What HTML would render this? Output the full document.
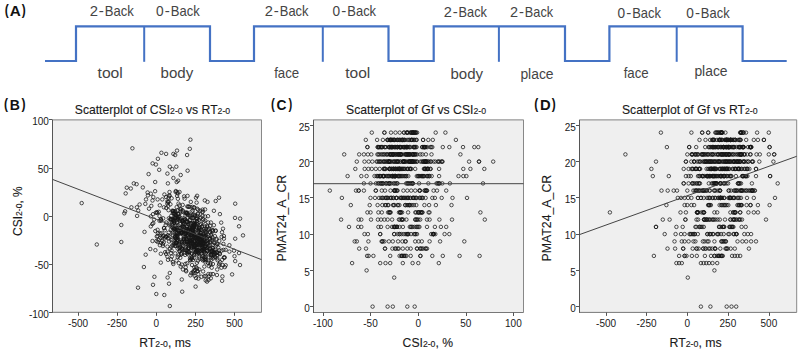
<!DOCTYPE html>
<html><head><meta charset="utf-8"><title>Figure</title><style>
html,body{margin:0;padding:0;background:#fff;width:799px;height:351px;overflow:hidden}
svg{display:block}
text{font-family:"Liberation Sans", sans-serif}
</style></head><body>
<svg width="799" height="351" viewBox="0 0 799 351">
<polyline points="45,61 76,61 76,26.3 210,26.3 210,61 254,61 254,26.3 388.5,26.3 388.5,61 433.7,61 433.7,26.3 565,26.3 565,61 609.4,61 609.4,26.3 742.6,26.3 742.6,61 786.7,61" fill="none" stroke="#4472c4" stroke-width="2.2" stroke-linejoin="miter"/>
<line x1="144.2" y1="26.3" x2="144.2" y2="61.8" stroke="#4472c4" stroke-width="2"/>
<line x1="322.8" y1="26.3" x2="322.8" y2="61.8" stroke="#4472c4" stroke-width="2"/>
<line x1="498.9" y1="26.3" x2="498.9" y2="61.8" stroke="#4472c4" stroke-width="2"/>
<line x1="676.7" y1="26.3" x2="676.7" y2="61.8" stroke="#4472c4" stroke-width="2"/>
<rect x="52.5" y="119.8" width="209" height="192.5" fill="#efefef"/>
<line x1="52.5" y1="119.8" x2="261.5" y2="119.8" stroke="#999" stroke-width="1.3"/>
<line x1="261.5" y1="119.8" x2="261.5" y2="312.3" stroke="#888" stroke-width="1"/>
<line x1="52.5" y1="312.3" x2="261.5" y2="312.3" stroke="#777" stroke-width="1"/>
<line x1="52.5" y1="119.8" x2="52.5" y2="312.8" stroke="#555" stroke-width="1"/>
<line x1="49" y1="119.5" x2="52.5" y2="119.5" stroke="#555" stroke-width="1"/>
<text x="48.9" y="125" font-size="10" text-anchor="end" fill="#1a1a1a">100</text>
<line x1="49" y1="168.5" x2="52.5" y2="168.5" stroke="#555" stroke-width="1"/>
<text x="48.9" y="173.2" font-size="10" text-anchor="end" fill="#1a1a1a">50</text>
<line x1="49" y1="216.5" x2="52.5" y2="216.5" stroke="#555" stroke-width="1"/>
<text x="48.9" y="221.2" font-size="10" text-anchor="end" fill="#1a1a1a">0</text>
<line x1="49" y1="264.5" x2="52.5" y2="264.5" stroke="#555" stroke-width="1"/>
<text x="48.9" y="269.4" font-size="10" text-anchor="end" fill="#1a1a1a">-50</text>
<line x1="49" y1="312.5" x2="52.5" y2="312.5" stroke="#555" stroke-width="1"/>
<text x="48.9" y="317.5" font-size="10" text-anchor="end" fill="#1a1a1a">-100</text>
<line x1="78.5" y1="312.3" x2="78.5" y2="315.8" stroke="#555" stroke-width="1"/>
<text x="78.1" y="326.6" font-size="10" text-anchor="middle" fill="#1a1a1a">-500</text>
<line x1="117.5" y1="312.3" x2="117.5" y2="315.8" stroke="#555" stroke-width="1"/>
<text x="117" y="326.6" font-size="10" text-anchor="middle" fill="#1a1a1a">-250</text>
<line x1="156.5" y1="312.3" x2="156.5" y2="315.8" stroke="#555" stroke-width="1"/>
<text x="156.4" y="326.6" font-size="10" text-anchor="middle" fill="#1a1a1a">0</text>
<line x1="195.5" y1="312.3" x2="195.5" y2="315.8" stroke="#555" stroke-width="1"/>
<text x="195.6" y="326.6" font-size="10" text-anchor="middle" fill="#1a1a1a">250</text>
<line x1="234.5" y1="312.3" x2="234.5" y2="315.8" stroke="#555" stroke-width="1"/>
<text x="234.5" y="326.6" font-size="10" text-anchor="middle" fill="#1a1a1a">500</text>
<g fill="none" stroke="#151515" stroke-width="0.75"><circle cx="132.4" cy="148.3" r="1.75"/><circle cx="190.4" cy="139.7" r="1.75"/><circle cx="189.8" cy="148.8" r="1.75"/><circle cx="161.4" cy="152.8" r="1.75"/><circle cx="166.1" cy="153.9" r="1.75"/><circle cx="173.4" cy="153.9" r="1.75"/><circle cx="175.2" cy="155.0" r="1.75"/><circle cx="177.0" cy="150.6" r="1.75"/><circle cx="187.1" cy="155.0" r="1.75"/><circle cx="157.9" cy="158.8" r="1.75"/><circle cx="152.6" cy="163.4" r="1.75"/><circle cx="155.9" cy="164.5" r="1.75"/><circle cx="159.2" cy="169.8" r="1.75"/><circle cx="169.8" cy="166.7" r="1.75"/><circle cx="172.3" cy="169.2" r="1.75"/><circle cx="176.3" cy="166.7" r="1.75"/><circle cx="187.6" cy="170.7" r="1.75"/><circle cx="148.6" cy="174.1" r="1.75"/><circle cx="167.4" cy="173.6" r="1.75"/><circle cx="180.7" cy="175.0" r="1.75"/><circle cx="173.4" cy="178.0" r="1.75"/><circle cx="155.2" cy="182.0" r="1.75"/><circle cx="167.9" cy="183.4" r="1.75"/><circle cx="176.7" cy="182.0" r="1.75"/><circle cx="178.1" cy="180.7" r="1.75"/><circle cx="133.8" cy="183.4" r="1.75"/><circle cx="136.6" cy="184.2" r="1.75"/><circle cx="81.7" cy="203.1" r="1.75"/><circle cx="96.8" cy="244.5" r="1.75"/><circle cx="121.3" cy="225.0" r="1.75"/><circle cx="121.3" cy="242.0" r="1.75"/><circle cx="145.7" cy="254.7" r="1.75"/><circle cx="143.9" cy="267.0" r="1.75"/><circle cx="160.8" cy="262.6" r="1.75"/><circle cx="154.4" cy="276.8" r="1.75"/><circle cx="153.0" cy="284.8" r="1.75"/><circle cx="138.0" cy="287.7" r="1.75"/><circle cx="156.3" cy="294.0" r="1.75"/><circle cx="164.3" cy="295.0" r="1.75"/><circle cx="169.8" cy="306.0" r="1.75"/><circle cx="169.0" cy="283.7" r="1.75"/><circle cx="167.6" cy="277.5" r="1.75"/><circle cx="169.8" cy="273.0" r="1.75"/><circle cx="181.8" cy="279.5" r="1.75"/><circle cx="182.2" cy="291.7" r="1.75"/><circle cx="150.3" cy="249.0" r="1.75"/><circle cx="155.4" cy="250.2" r="1.75"/><circle cx="160.8" cy="253.8" r="1.75"/><circle cx="170.9" cy="259.3" r="1.75"/><circle cx="173.0" cy="262.2" r="1.75"/><circle cx="180.7" cy="266.6" r="1.75"/><circle cx="183.0" cy="269.5" r="1.75"/><circle cx="186.2" cy="271.3" r="1.75"/><circle cx="190.4" cy="275.3" r="1.75"/><circle cx="195.6" cy="286.6" r="1.75"/><circle cx="205.7" cy="280.4" r="1.75"/><circle cx="196.0" cy="278.0" r="1.75"/><circle cx="198.4" cy="278.6" r="1.75"/><circle cx="201.5" cy="276.8" r="1.75"/><circle cx="208.4" cy="274.1" r="1.75"/><circle cx="213.0" cy="274.1" r="1.75"/><circle cx="222.1" cy="280.8" r="1.75"/><circle cx="222.4" cy="276.4" r="1.75"/><circle cx="232.1" cy="274.4" r="1.75"/><circle cx="240.0" cy="265.0" r="1.75"/><circle cx="235.2" cy="261.1" r="1.75"/><circle cx="234.5" cy="256.2" r="1.75"/><circle cx="239.0" cy="253.1" r="1.75"/><circle cx="234.0" cy="250.7" r="1.75"/><circle cx="229.4" cy="251.6" r="1.75"/><circle cx="225.7" cy="249.8" r="1.75"/><circle cx="225.7" cy="265.3" r="1.75"/><circle cx="224.8" cy="267.1" r="1.75"/><circle cx="222.1" cy="259.8" r="1.75"/><circle cx="223.9" cy="257.5" r="1.75"/><circle cx="211.7" cy="267.7" r="1.75"/><circle cx="193.8" cy="270.8" r="1.75"/><circle cx="197.5" cy="271.3" r="1.75"/><circle cx="235.2" cy="203.7" r="1.75"/><circle cx="219.0" cy="197.7" r="1.75"/><circle cx="215.7" cy="201.0" r="1.75"/><circle cx="204.8" cy="200.4" r="1.75"/><circle cx="207.5" cy="201.9" r="1.75"/><circle cx="235.0" cy="217.9" r="1.75"/><circle cx="240.1" cy="218.6" r="1.75"/><circle cx="239.0" cy="226.3" r="1.75"/><circle cx="243.0" cy="235.4" r="1.75"/><circle cx="235.2" cy="238.7" r="1.75"/><circle cx="219.9" cy="214.1" r="1.75"/><circle cx="213.9" cy="210.8" r="1.75"/><circle cx="229.4" cy="245.2" r="1.75"/><circle cx="223.9" cy="236.0" r="1.75"/><circle cx="223.9" cy="238.7" r="1.75"/><circle cx="222.0" cy="232.3" r="1.75"/><circle cx="221.2" cy="222.6" r="1.75"/><circle cx="223.0" cy="228.7" r="1.75"/><circle cx="197.1" cy="195.8" r="1.75"/><circle cx="196.0" cy="197.7" r="1.75"/><circle cx="126.8" cy="187.7" r="1.75"/><circle cx="130.8" cy="188.5" r="1.75"/><circle cx="142.8" cy="187.4" r="1.75"/><circle cx="125.7" cy="193.4" r="1.75"/><circle cx="147.6" cy="192.5" r="1.75"/><circle cx="150.8" cy="193.7" r="1.75"/><circle cx="147.9" cy="195.4" r="1.75"/><circle cx="155.1" cy="191.2" r="1.75"/><circle cx="153.3" cy="197.1" r="1.75"/><circle cx="146.0" cy="199.4" r="1.75"/><circle cx="145.3" cy="203.9" r="1.75"/><circle cx="139.6" cy="204.5" r="1.75"/><circle cx="131.4" cy="207.3" r="1.75"/><circle cx="136.9" cy="207.3" r="1.75"/><circle cx="138.2" cy="210.5" r="1.75"/><circle cx="125.1" cy="211.3" r="1.75"/><circle cx="124.3" cy="213.3" r="1.75"/><circle cx="149.0" cy="208.7" r="1.75"/><circle cx="137.1" cy="215.9" r="1.75"/><circle cx="152.5" cy="200.5" r="1.75"/><circle cx="157.6" cy="199.4" r="1.75"/><circle cx="153.0" cy="214.2" r="1.75"/><circle cx="150.8" cy="216.4" r="1.75"/><circle cx="144.5" cy="231.9" r="1.75"/><circle cx="150.8" cy="226.4" r="1.75"/><circle cx="152.5" cy="241.0" r="1.75"/><circle cx="156.4" cy="241.0" r="1.75"/><circle cx="155.3" cy="231.0" r="1.75"/><circle cx="157.6" cy="229.8" r="1.75"/><circle cx="157.6" cy="236.1" r="1.75"/><circle cx="160.4" cy="237.8" r="1.75"/><circle cx="165.0" cy="238.3" r="1.75"/><circle cx="163.8" cy="242.3" r="1.75"/><circle cx="159.9" cy="245.2" r="1.75"/><circle cx="191.9" cy="240.1" r="1.75"/><circle cx="192.3" cy="229.7" r="1.75"/><circle cx="183.8" cy="227.1" r="1.75"/><circle cx="208.3" cy="246.7" r="1.75"/><circle cx="207.4" cy="244.0" r="1.75"/><circle cx="199.7" cy="239.6" r="1.75"/><circle cx="175.0" cy="236.6" r="1.75"/><circle cx="201.1" cy="244.2" r="1.75"/><circle cx="184.3" cy="224.0" r="1.75"/><circle cx="198.7" cy="236.1" r="1.75"/><circle cx="201.3" cy="229.7" r="1.75"/><circle cx="198.7" cy="241.8" r="1.75"/><circle cx="187.1" cy="253.3" r="1.75"/><circle cx="201.7" cy="253.5" r="1.75"/><circle cx="187.6" cy="222.0" r="1.75"/><circle cx="190.9" cy="231.7" r="1.75"/><circle cx="202.6" cy="241.7" r="1.75"/><circle cx="189.6" cy="220.2" r="1.75"/><circle cx="188.8" cy="247.8" r="1.75"/><circle cx="185.3" cy="233.6" r="1.75"/><circle cx="200.1" cy="218.3" r="1.75"/><circle cx="195.6" cy="252.0" r="1.75"/><circle cx="170.8" cy="219.6" r="1.75"/><circle cx="193.7" cy="223.9" r="1.75"/><circle cx="201.0" cy="237.0" r="1.75"/><circle cx="177.4" cy="237.4" r="1.75"/><circle cx="203.0" cy="250.9" r="1.75"/><circle cx="212.3" cy="247.7" r="1.75"/><circle cx="196.4" cy="219.0" r="1.75"/><circle cx="202.4" cy="230.6" r="1.75"/><circle cx="189.6" cy="216.2" r="1.75"/><circle cx="183.4" cy="222.8" r="1.75"/><circle cx="177.5" cy="229.9" r="1.75"/><circle cx="212.3" cy="250.5" r="1.75"/><circle cx="199.3" cy="227.6" r="1.75"/><circle cx="181.6" cy="241.3" r="1.75"/><circle cx="208.2" cy="243.2" r="1.75"/><circle cx="197.9" cy="241.9" r="1.75"/><circle cx="214.1" cy="251.9" r="1.75"/><circle cx="201.2" cy="244.9" r="1.75"/><circle cx="176.2" cy="242.7" r="1.75"/><circle cx="206.5" cy="247.1" r="1.75"/><circle cx="171.3" cy="215.8" r="1.75"/><circle cx="205.1" cy="216.5" r="1.75"/><circle cx="192.8" cy="247.1" r="1.75"/><circle cx="179.3" cy="248.3" r="1.75"/><circle cx="201.6" cy="236.2" r="1.75"/><circle cx="198.9" cy="245.2" r="1.75"/><circle cx="196.4" cy="250.4" r="1.75"/><circle cx="187.1" cy="226.0" r="1.75"/><circle cx="207.5" cy="241.2" r="1.75"/><circle cx="184.4" cy="242.2" r="1.75"/><circle cx="212.6" cy="237.5" r="1.75"/><circle cx="178.4" cy="225.5" r="1.75"/><circle cx="193.2" cy="230.3" r="1.75"/><circle cx="211.9" cy="229.7" r="1.75"/><circle cx="210.1" cy="225.8" r="1.75"/><circle cx="185.6" cy="238.7" r="1.75"/><circle cx="208.5" cy="252.3" r="1.75"/><circle cx="199.1" cy="238.8" r="1.75"/><circle cx="196.8" cy="243.2" r="1.75"/><circle cx="192.9" cy="237.6" r="1.75"/><circle cx="201.9" cy="238.2" r="1.75"/><circle cx="204.2" cy="246.5" r="1.75"/><circle cx="219.1" cy="250.4" r="1.75"/><circle cx="189.9" cy="227.8" r="1.75"/><circle cx="194.8" cy="246.8" r="1.75"/><circle cx="191.0" cy="238.1" r="1.75"/><circle cx="181.5" cy="231.8" r="1.75"/><circle cx="199.8" cy="240.3" r="1.75"/><circle cx="189.8" cy="241.0" r="1.75"/><circle cx="198.4" cy="229.9" r="1.75"/><circle cx="188.3" cy="230.6" r="1.75"/><circle cx="192.3" cy="232.9" r="1.75"/><circle cx="207.1" cy="225.7" r="1.75"/><circle cx="194.2" cy="246.9" r="1.75"/><circle cx="205.3" cy="258.9" r="1.75"/><circle cx="174.6" cy="220.9" r="1.75"/><circle cx="190.9" cy="241.1" r="1.75"/><circle cx="208.1" cy="222.5" r="1.75"/><circle cx="203.2" cy="219.7" r="1.75"/><circle cx="197.1" cy="251.3" r="1.75"/><circle cx="193.2" cy="236.6" r="1.75"/><circle cx="204.6" cy="241.3" r="1.75"/><circle cx="193.9" cy="254.2" r="1.75"/><circle cx="207.6" cy="237.1" r="1.75"/><circle cx="206.0" cy="236.7" r="1.75"/><circle cx="196.6" cy="244.8" r="1.75"/><circle cx="197.7" cy="244.4" r="1.75"/><circle cx="176.7" cy="207.1" r="1.75"/><circle cx="202.4" cy="226.1" r="1.75"/><circle cx="182.7" cy="210.4" r="1.75"/><circle cx="210.2" cy="251.7" r="1.75"/><circle cx="212.7" cy="231.2" r="1.75"/><circle cx="195.0" cy="220.4" r="1.75"/><circle cx="204.2" cy="259.7" r="1.75"/><circle cx="184.3" cy="250.0" r="1.75"/><circle cx="206.9" cy="238.3" r="1.75"/><circle cx="193.8" cy="226.7" r="1.75"/><circle cx="199.8" cy="242.5" r="1.75"/><circle cx="213.0" cy="230.3" r="1.75"/><circle cx="208.6" cy="260.4" r="1.75"/><circle cx="212.4" cy="240.8" r="1.75"/><circle cx="186.1" cy="243.9" r="1.75"/><circle cx="196.4" cy="237.2" r="1.75"/><circle cx="212.1" cy="239.6" r="1.75"/><circle cx="172.8" cy="235.1" r="1.75"/><circle cx="198.8" cy="228.9" r="1.75"/><circle cx="194.9" cy="245.6" r="1.75"/><circle cx="195.9" cy="252.5" r="1.75"/><circle cx="194.3" cy="248.0" r="1.75"/><circle cx="212.9" cy="264.0" r="1.75"/><circle cx="186.9" cy="242.5" r="1.75"/><circle cx="172.5" cy="210.6" r="1.75"/><circle cx="180.2" cy="227.9" r="1.75"/><circle cx="192.7" cy="233.6" r="1.75"/><circle cx="187.9" cy="234.7" r="1.75"/><circle cx="216.5" cy="245.6" r="1.75"/><circle cx="201.4" cy="250.8" r="1.75"/><circle cx="192.6" cy="217.7" r="1.75"/><circle cx="188.3" cy="245.7" r="1.75"/><circle cx="175.2" cy="218.1" r="1.75"/><circle cx="207.1" cy="250.8" r="1.75"/><circle cx="195.1" cy="245.4" r="1.75"/><circle cx="197.0" cy="220.8" r="1.75"/><circle cx="176.2" cy="218.0" r="1.75"/><circle cx="206.1" cy="232.9" r="1.75"/><circle cx="184.2" cy="220.1" r="1.75"/><circle cx="176.6" cy="224.9" r="1.75"/><circle cx="180.8" cy="233.1" r="1.75"/><circle cx="187.3" cy="206.5" r="1.75"/><circle cx="203.7" cy="235.5" r="1.75"/><circle cx="198.5" cy="230.7" r="1.75"/><circle cx="204.4" cy="249.0" r="1.75"/><circle cx="203.0" cy="242.9" r="1.75"/><circle cx="211.0" cy="250.9" r="1.75"/><circle cx="200.4" cy="210.8" r="1.75"/><circle cx="205.8" cy="256.8" r="1.75"/><circle cx="191.4" cy="227.3" r="1.75"/><circle cx="183.9" cy="238.7" r="1.75"/><circle cx="217.6" cy="244.0" r="1.75"/><circle cx="201.7" cy="249.7" r="1.75"/><circle cx="184.1" cy="228.8" r="1.75"/><circle cx="198.5" cy="247.2" r="1.75"/><circle cx="194.6" cy="232.3" r="1.75"/><circle cx="182.8" cy="224.7" r="1.75"/><circle cx="205.7" cy="241.3" r="1.75"/><circle cx="184.8" cy="219.4" r="1.75"/><circle cx="202.5" cy="244.6" r="1.75"/><circle cx="215.2" cy="249.9" r="1.75"/><circle cx="194.2" cy="241.3" r="1.75"/><circle cx="198.9" cy="227.8" r="1.75"/><circle cx="178.2" cy="218.6" r="1.75"/><circle cx="198.5" cy="239.0" r="1.75"/><circle cx="190.2" cy="220.3" r="1.75"/><circle cx="180.7" cy="211.1" r="1.75"/><circle cx="215.4" cy="257.2" r="1.75"/><circle cx="216.9" cy="255.6" r="1.75"/><circle cx="184.5" cy="233.5" r="1.75"/><circle cx="194.3" cy="241.4" r="1.75"/><circle cx="186.3" cy="229.3" r="1.75"/><circle cx="200.5" cy="242.4" r="1.75"/><circle cx="202.7" cy="241.3" r="1.75"/><circle cx="191.1" cy="243.3" r="1.75"/><circle cx="195.6" cy="224.7" r="1.75"/><circle cx="187.5" cy="231.5" r="1.75"/><circle cx="193.7" cy="236.4" r="1.75"/><circle cx="195.0" cy="237.3" r="1.75"/><circle cx="193.4" cy="218.1" r="1.75"/><circle cx="200.1" cy="250.9" r="1.75"/><circle cx="200.2" cy="235.0" r="1.75"/><circle cx="200.4" cy="225.1" r="1.75"/><circle cx="172.2" cy="225.1" r="1.75"/><circle cx="183.8" cy="239.3" r="1.75"/><circle cx="182.5" cy="249.4" r="1.75"/><circle cx="190.4" cy="215.3" r="1.75"/><circle cx="185.8" cy="237.4" r="1.75"/><circle cx="201.0" cy="240.1" r="1.75"/><circle cx="212.8" cy="252.4" r="1.75"/><circle cx="194.7" cy="242.5" r="1.75"/><circle cx="214.9" cy="256.7" r="1.75"/><circle cx="207.3" cy="226.8" r="1.75"/><circle cx="193.2" cy="243.5" r="1.75"/><circle cx="191.4" cy="247.1" r="1.75"/><circle cx="202.2" cy="250.0" r="1.75"/><circle cx="209.9" cy="239.2" r="1.75"/><circle cx="190.9" cy="244.3" r="1.75"/><circle cx="206.8" cy="240.6" r="1.75"/><circle cx="181.0" cy="230.9" r="1.75"/><circle cx="199.3" cy="251.5" r="1.75"/><circle cx="204.4" cy="239.7" r="1.75"/><circle cx="205.2" cy="246.7" r="1.75"/><circle cx="197.5" cy="236.9" r="1.75"/><circle cx="192.1" cy="242.4" r="1.75"/><circle cx="182.3" cy="221.0" r="1.75"/><circle cx="195.1" cy="216.2" r="1.75"/><circle cx="189.8" cy="206.8" r="1.75"/><circle cx="186.8" cy="238.5" r="1.75"/><circle cx="201.8" cy="237.5" r="1.75"/><circle cx="192.2" cy="215.5" r="1.75"/><circle cx="216.9" cy="251.9" r="1.75"/><circle cx="208.1" cy="229.8" r="1.75"/><circle cx="192.8" cy="210.6" r="1.75"/><circle cx="204.4" cy="251.4" r="1.75"/><circle cx="172.2" cy="223.7" r="1.75"/><circle cx="202.6" cy="215.9" r="1.75"/><circle cx="173.1" cy="211.1" r="1.75"/><circle cx="187.4" cy="213.5" r="1.75"/><circle cx="195.4" cy="238.4" r="1.75"/><circle cx="202.6" cy="247.6" r="1.75"/><circle cx="213.0" cy="258.4" r="1.75"/><circle cx="179.3" cy="221.2" r="1.75"/><circle cx="182.3" cy="215.2" r="1.75"/><circle cx="194.0" cy="234.6" r="1.75"/><circle cx="200.9" cy="217.4" r="1.75"/><circle cx="180.1" cy="227.8" r="1.75"/><circle cx="192.6" cy="229.9" r="1.75"/><circle cx="194.2" cy="224.9" r="1.75"/><circle cx="203.4" cy="243.5" r="1.75"/><circle cx="193.9" cy="225.9" r="1.75"/><circle cx="183.2" cy="230.0" r="1.75"/><circle cx="177.0" cy="229.1" r="1.75"/><circle cx="196.8" cy="218.2" r="1.75"/><circle cx="192.0" cy="229.6" r="1.75"/><circle cx="200.5" cy="245.4" r="1.75"/><circle cx="194.6" cy="223.9" r="1.75"/><circle cx="193.3" cy="233.4" r="1.75"/><circle cx="203.8" cy="242.9" r="1.75"/><circle cx="186.3" cy="213.6" r="1.75"/><circle cx="190.5" cy="223.4" r="1.75"/><circle cx="181.7" cy="227.3" r="1.75"/><circle cx="189.1" cy="233.6" r="1.75"/><circle cx="201.3" cy="232.6" r="1.75"/><circle cx="208.2" cy="242.7" r="1.75"/><circle cx="186.0" cy="234.0" r="1.75"/><circle cx="198.9" cy="253.2" r="1.75"/><circle cx="204.2" cy="251.4" r="1.75"/><circle cx="201.1" cy="235.9" r="1.75"/><circle cx="201.1" cy="224.0" r="1.75"/><circle cx="209.2" cy="228.6" r="1.75"/><circle cx="183.8" cy="234.1" r="1.75"/><circle cx="210.1" cy="248.6" r="1.75"/><circle cx="172.7" cy="232.9" r="1.75"/><circle cx="199.1" cy="256.6" r="1.75"/><circle cx="173.3" cy="264.0" r="1.75"/><circle cx="219.7" cy="253.6" r="1.75"/><circle cx="193.1" cy="230.0" r="1.75"/><circle cx="214.9" cy="236.2" r="1.75"/><circle cx="200.8" cy="233.1" r="1.75"/><circle cx="174.8" cy="243.6" r="1.75"/><circle cx="213.3" cy="249.6" r="1.75"/><circle cx="175.1" cy="245.7" r="1.75"/><circle cx="187.1" cy="241.9" r="1.75"/><circle cx="216.9" cy="275.0" r="1.75"/><circle cx="188.1" cy="252.2" r="1.75"/><circle cx="175.7" cy="228.4" r="1.75"/><circle cx="213.9" cy="225.2" r="1.75"/><circle cx="210.3" cy="238.7" r="1.75"/><circle cx="186.8" cy="228.9" r="1.75"/><circle cx="185.7" cy="212.4" r="1.75"/><circle cx="188.5" cy="206.7" r="1.75"/><circle cx="186.6" cy="241.6" r="1.75"/><circle cx="196.9" cy="236.1" r="1.75"/><circle cx="170.8" cy="229.9" r="1.75"/><circle cx="178.8" cy="263.1" r="1.75"/><circle cx="202.6" cy="241.6" r="1.75"/><circle cx="179.0" cy="216.7" r="1.75"/><circle cx="170.2" cy="219.1" r="1.75"/><circle cx="193.6" cy="249.6" r="1.75"/><circle cx="174.6" cy="229.0" r="1.75"/><circle cx="178.1" cy="234.1" r="1.75"/><circle cx="190.9" cy="246.0" r="1.75"/><circle cx="183.5" cy="241.0" r="1.75"/><circle cx="189.0" cy="252.4" r="1.75"/><circle cx="188.0" cy="214.8" r="1.75"/><circle cx="168.2" cy="238.1" r="1.75"/><circle cx="175.7" cy="242.3" r="1.75"/><circle cx="202.2" cy="250.0" r="1.75"/><circle cx="197.7" cy="239.1" r="1.75"/><circle cx="161.2" cy="220.8" r="1.75"/><circle cx="196.6" cy="229.8" r="1.75"/><circle cx="186.1" cy="250.4" r="1.75"/><circle cx="171.3" cy="240.1" r="1.75"/><circle cx="223.4" cy="243.9" r="1.75"/><circle cx="190.8" cy="234.4" r="1.75"/><circle cx="217.3" cy="258.4" r="1.75"/><circle cx="205.1" cy="231.1" r="1.75"/><circle cx="187.7" cy="235.6" r="1.75"/><circle cx="205.1" cy="209.4" r="1.75"/><circle cx="202.1" cy="241.0" r="1.75"/><circle cx="196.5" cy="248.2" r="1.75"/><circle cx="159.5" cy="216.1" r="1.75"/><circle cx="216.4" cy="239.6" r="1.75"/><circle cx="168.6" cy="197.5" r="1.75"/><circle cx="164.8" cy="230.3" r="1.75"/><circle cx="220.2" cy="262.3" r="1.75"/><circle cx="178.1" cy="216.8" r="1.75"/><circle cx="198.0" cy="252.7" r="1.75"/><circle cx="168.7" cy="201.5" r="1.75"/><circle cx="193.5" cy="244.1" r="1.75"/><circle cx="163.2" cy="218.3" r="1.75"/><circle cx="177.7" cy="239.8" r="1.75"/><circle cx="185.8" cy="233.0" r="1.75"/><circle cx="181.3" cy="254.0" r="1.75"/><circle cx="214.4" cy="242.9" r="1.75"/><circle cx="204.1" cy="229.2" r="1.75"/><circle cx="189.4" cy="252.1" r="1.75"/><circle cx="216.8" cy="243.8" r="1.75"/><circle cx="186.6" cy="239.3" r="1.75"/><circle cx="159.5" cy="220.8" r="1.75"/><circle cx="175.2" cy="236.6" r="1.75"/><circle cx="188.7" cy="241.7" r="1.75"/><circle cx="177.6" cy="248.6" r="1.75"/><circle cx="182.8" cy="220.7" r="1.75"/><circle cx="197.1" cy="208.7" r="1.75"/><circle cx="175.1" cy="228.6" r="1.75"/><circle cx="204.1" cy="241.4" r="1.75"/><circle cx="193.9" cy="225.7" r="1.75"/><circle cx="193.7" cy="273.3" r="1.75"/><circle cx="175.8" cy="229.7" r="1.75"/><circle cx="191.3" cy="258.8" r="1.75"/><circle cx="199.5" cy="258.6" r="1.75"/><circle cx="191.9" cy="243.3" r="1.75"/><circle cx="205.7" cy="253.2" r="1.75"/><circle cx="203.4" cy="236.8" r="1.75"/><circle cx="187.9" cy="230.7" r="1.75"/><circle cx="178.5" cy="213.6" r="1.75"/><circle cx="176.0" cy="242.6" r="1.75"/><circle cx="188.7" cy="237.7" r="1.75"/><circle cx="184.7" cy="253.0" r="1.75"/><circle cx="197.4" cy="238.2" r="1.75"/><circle cx="200.6" cy="239.8" r="1.75"/><circle cx="166.1" cy="254.0" r="1.75"/><circle cx="196.8" cy="221.2" r="1.75"/><circle cx="208.5" cy="254.3" r="1.75"/><circle cx="194.3" cy="257.8" r="1.75"/><circle cx="191.8" cy="235.0" r="1.75"/><circle cx="158.6" cy="239.9" r="1.75"/><circle cx="188.6" cy="230.4" r="1.75"/><circle cx="194.7" cy="241.2" r="1.75"/><circle cx="200.8" cy="235.4" r="1.75"/><circle cx="180.0" cy="245.5" r="1.75"/><circle cx="213.4" cy="242.4" r="1.75"/><circle cx="185.7" cy="267.3" r="1.75"/><circle cx="181.8" cy="247.7" r="1.75"/><circle cx="219.9" cy="254.2" r="1.75"/><circle cx="211.3" cy="234.1" r="1.75"/><circle cx="191.9" cy="236.6" r="1.75"/><circle cx="190.2" cy="260.4" r="1.75"/><circle cx="177.1" cy="240.3" r="1.75"/><circle cx="168.0" cy="235.3" r="1.75"/><circle cx="198.9" cy="236.2" r="1.75"/><circle cx="198.1" cy="209.7" r="1.75"/><circle cx="202.4" cy="212.1" r="1.75"/><circle cx="174.8" cy="217.4" r="1.75"/><circle cx="180.4" cy="249.5" r="1.75"/><circle cx="189.6" cy="228.7" r="1.75"/><circle cx="198.3" cy="274.1" r="1.75"/><circle cx="188.1" cy="243.6" r="1.75"/><circle cx="211.6" cy="254.3" r="1.75"/><circle cx="187.3" cy="244.2" r="1.75"/><circle cx="206.3" cy="259.7" r="1.75"/><circle cx="182.8" cy="211.5" r="1.75"/><circle cx="190.0" cy="258.3" r="1.75"/><circle cx="167.3" cy="203.6" r="1.75"/><circle cx="187.5" cy="195.9" r="1.75"/><circle cx="183.1" cy="224.3" r="1.75"/><circle cx="196.6" cy="226.3" r="1.75"/><circle cx="171.2" cy="218.8" r="1.75"/><circle cx="187.1" cy="221.8" r="1.75"/><circle cx="188.2" cy="251.5" r="1.75"/><circle cx="173.1" cy="219.3" r="1.75"/><circle cx="174.2" cy="227.8" r="1.75"/><circle cx="197.9" cy="213.5" r="1.75"/><circle cx="196.8" cy="240.3" r="1.75"/><circle cx="153.3" cy="223.1" r="1.75"/><circle cx="203.3" cy="248.7" r="1.75"/><circle cx="197.0" cy="250.0" r="1.75"/><circle cx="212.8" cy="244.9" r="1.75"/><circle cx="204.6" cy="236.6" r="1.75"/><circle cx="201.8" cy="226.8" r="1.75"/><circle cx="185.9" cy="270.4" r="1.75"/><circle cx="196.5" cy="237.4" r="1.75"/><circle cx="166.2" cy="207.9" r="1.75"/><circle cx="191.7" cy="257.3" r="1.75"/><circle cx="196.1" cy="251.2" r="1.75"/><circle cx="187.2" cy="263.3" r="1.75"/><circle cx="180.6" cy="220.7" r="1.75"/><circle cx="204.9" cy="246.5" r="1.75"/><circle cx="182.7" cy="221.3" r="1.75"/><circle cx="183.1" cy="246.1" r="1.75"/><circle cx="194.7" cy="214.8" r="1.75"/><circle cx="196.1" cy="244.1" r="1.75"/><circle cx="169.0" cy="241.5" r="1.75"/><circle cx="182.7" cy="226.2" r="1.75"/><circle cx="203.1" cy="271.4" r="1.75"/><circle cx="174.9" cy="237.9" r="1.75"/><circle cx="178.6" cy="255.4" r="1.75"/><circle cx="175.7" cy="246.0" r="1.75"/><circle cx="179.7" cy="241.8" r="1.75"/><circle cx="186.2" cy="221.3" r="1.75"/><circle cx="156.8" cy="236.5" r="1.75"/><circle cx="177.0" cy="233.0" r="1.75"/><circle cx="212.0" cy="251.5" r="1.75"/><circle cx="210.5" cy="263.4" r="1.75"/><circle cx="172.5" cy="245.2" r="1.75"/><circle cx="197.4" cy="254.4" r="1.75"/><circle cx="205.1" cy="260.4" r="1.75"/><circle cx="191.2" cy="247.9" r="1.75"/><circle cx="181.7" cy="233.3" r="1.75"/><circle cx="204.8" cy="236.1" r="1.75"/><circle cx="209.8" cy="231.7" r="1.75"/><circle cx="193.1" cy="227.9" r="1.75"/><circle cx="191.0" cy="223.4" r="1.75"/><circle cx="157.7" cy="241.9" r="1.75"/><circle cx="193.8" cy="227.7" r="1.75"/><circle cx="191.8" cy="258.4" r="1.75"/><circle cx="169.4" cy="223.6" r="1.75"/><circle cx="198.2" cy="252.4" r="1.75"/><circle cx="211.6" cy="255.6" r="1.75"/><circle cx="188.2" cy="230.4" r="1.75"/><circle cx="193.0" cy="230.0" r="1.75"/><circle cx="168.5" cy="210.2" r="1.75"/><circle cx="176.7" cy="217.2" r="1.75"/><circle cx="166.0" cy="237.1" r="1.75"/><circle cx="163.1" cy="236.0" r="1.75"/><circle cx="168.7" cy="232.7" r="1.75"/><circle cx="214.1" cy="254.4" r="1.75"/><circle cx="174.1" cy="229.4" r="1.75"/><circle cx="190.8" cy="201.9" r="1.75"/><circle cx="176.5" cy="233.1" r="1.75"/><circle cx="179.1" cy="232.8" r="1.75"/><circle cx="201.9" cy="259.3" r="1.75"/><circle cx="205.2" cy="257.5" r="1.75"/><circle cx="182.5" cy="232.6" r="1.75"/><circle cx="182.8" cy="226.8" r="1.75"/><circle cx="184.6" cy="198.7" r="1.75"/><circle cx="181.7" cy="232.1" r="1.75"/><circle cx="169.5" cy="225.4" r="1.75"/><circle cx="197.8" cy="238.0" r="1.75"/><circle cx="184.1" cy="196.4" r="1.75"/><circle cx="197.9" cy="235.2" r="1.75"/><circle cx="204.2" cy="252.5" r="1.75"/><circle cx="188.4" cy="224.2" r="1.75"/><circle cx="200.1" cy="232.6" r="1.75"/><circle cx="192.2" cy="227.8" r="1.75"/><circle cx="191.8" cy="253.6" r="1.75"/><circle cx="171.4" cy="226.3" r="1.75"/><circle cx="199.7" cy="245.4" r="1.75"/><circle cx="204.3" cy="276.3" r="1.75"/><circle cx="205.5" cy="262.3" r="1.75"/><circle cx="176.2" cy="214.9" r="1.75"/><circle cx="204.9" cy="226.5" r="1.75"/><circle cx="175.0" cy="213.9" r="1.75"/><circle cx="192.4" cy="223.0" r="1.75"/><circle cx="212.9" cy="248.0" r="1.75"/><circle cx="167.4" cy="251.6" r="1.75"/><circle cx="176.9" cy="234.5" r="1.75"/><circle cx="187.8" cy="229.4" r="1.75"/><circle cx="194.2" cy="225.1" r="1.75"/><circle cx="163.9" cy="207.3" r="1.75"/><circle cx="187.6" cy="236.9" r="1.75"/><circle cx="198.6" cy="244.2" r="1.75"/><circle cx="172.9" cy="213.2" r="1.75"/><circle cx="197.2" cy="251.9" r="1.75"/><circle cx="185.7" cy="231.2" r="1.75"/><circle cx="205.8" cy="246.0" r="1.75"/><circle cx="202.0" cy="255.6" r="1.75"/><circle cx="192.0" cy="265.0" r="1.75"/><circle cx="177.1" cy="222.7" r="1.75"/><circle cx="172.6" cy="211.3" r="1.75"/><circle cx="188.4" cy="247.9" r="1.75"/><circle cx="210.3" cy="264.7" r="1.75"/><circle cx="210.9" cy="222.5" r="1.75"/><circle cx="175.9" cy="238.7" r="1.75"/><circle cx="215.3" cy="253.0" r="1.75"/><circle cx="171.7" cy="219.8" r="1.75"/><circle cx="175.4" cy="211.5" r="1.75"/><circle cx="216.5" cy="238.7" r="1.75"/><circle cx="210.5" cy="255.2" r="1.75"/><circle cx="176.4" cy="238.1" r="1.75"/><circle cx="218.8" cy="265.6" r="1.75"/><circle cx="212.0" cy="251.1" r="1.75"/><circle cx="197.8" cy="237.2" r="1.75"/><circle cx="196.1" cy="267.1" r="1.75"/><circle cx="160.8" cy="219.9" r="1.75"/><circle cx="192.6" cy="226.8" r="1.75"/><circle cx="182.1" cy="249.0" r="1.75"/><circle cx="194.2" cy="207.5" r="1.75"/><circle cx="224.6" cy="257.5" r="1.75"/><circle cx="187.4" cy="212.7" r="1.75"/><circle cx="186.9" cy="212.9" r="1.75"/><circle cx="189.3" cy="246.3" r="1.75"/><circle cx="188.6" cy="242.1" r="1.75"/><circle cx="171.8" cy="256.6" r="1.75"/><circle cx="175.6" cy="191.9" r="1.75"/><circle cx="184.4" cy="218.4" r="1.75"/><circle cx="168.8" cy="218.3" r="1.75"/><circle cx="193.5" cy="214.7" r="1.75"/><circle cx="185.4" cy="263.9" r="1.75"/><circle cx="201.0" cy="239.9" r="1.75"/><circle cx="190.4" cy="234.9" r="1.75"/><circle cx="187.1" cy="250.5" r="1.75"/><circle cx="187.6" cy="217.5" r="1.75"/><circle cx="200.4" cy="230.2" r="1.75"/><circle cx="168.1" cy="202.1" r="1.75"/><circle cx="152.3" cy="224.0" r="1.75"/><circle cx="175.9" cy="191.0" r="1.75"/><circle cx="159.8" cy="233.3" r="1.75"/><circle cx="173.3" cy="220.4" r="1.75"/><circle cx="194.3" cy="267.3" r="1.75"/><circle cx="190.7" cy="241.3" r="1.75"/><circle cx="182.1" cy="242.2" r="1.75"/><circle cx="193.5" cy="240.0" r="1.75"/><circle cx="178.5" cy="203.6" r="1.75"/><circle cx="177.9" cy="198.8" r="1.75"/><circle cx="211.3" cy="259.7" r="1.75"/><circle cx="165.1" cy="252.2" r="1.75"/><circle cx="198.1" cy="250.2" r="1.75"/><circle cx="191.8" cy="241.6" r="1.75"/><circle cx="208.0" cy="216.2" r="1.75"/><circle cx="164.4" cy="194.5" r="1.75"/><circle cx="177.4" cy="217.8" r="1.75"/><circle cx="195.0" cy="245.3" r="1.75"/><circle cx="188.6" cy="222.4" r="1.75"/><circle cx="179.6" cy="251.0" r="1.75"/><circle cx="202.5" cy="246.0" r="1.75"/><circle cx="181.9" cy="264.6" r="1.75"/><circle cx="176.7" cy="243.2" r="1.75"/><circle cx="209.9" cy="242.5" r="1.75"/><circle cx="203.7" cy="221.6" r="1.75"/><circle cx="207.2" cy="250.6" r="1.75"/><circle cx="157.9" cy="233.3" r="1.75"/><circle cx="171.0" cy="253.1" r="1.75"/><circle cx="175.1" cy="225.6" r="1.75"/><circle cx="193.4" cy="232.1" r="1.75"/><circle cx="192.9" cy="227.3" r="1.75"/><circle cx="200.8" cy="243.1" r="1.75"/><circle cx="210.1" cy="248.7" r="1.75"/><circle cx="154.1" cy="219.5" r="1.75"/><circle cx="196.9" cy="262.8" r="1.75"/><circle cx="167.4" cy="256.6" r="1.75"/><circle cx="185.2" cy="248.4" r="1.75"/><circle cx="181.0" cy="209.3" r="1.75"/><circle cx="208.8" cy="266.0" r="1.75"/><circle cx="217.2" cy="269.5" r="1.75"/><circle cx="177.1" cy="195.9" r="1.75"/><circle cx="175.6" cy="215.4" r="1.75"/><circle cx="172.5" cy="239.5" r="1.75"/><circle cx="194.2" cy="233.9" r="1.75"/><circle cx="191.3" cy="234.8" r="1.75"/><circle cx="192.0" cy="253.6" r="1.75"/><circle cx="206.2" cy="231.8" r="1.75"/><circle cx="190.2" cy="259.9" r="1.75"/><circle cx="156.8" cy="212.2" r="1.75"/><circle cx="188.5" cy="206.7" r="1.75"/><circle cx="178.2" cy="245.5" r="1.75"/><circle cx="208.5" cy="279.9" r="1.75"/><circle cx="171.6" cy="198.3" r="1.75"/><circle cx="197.9" cy="260.7" r="1.75"/><circle cx="191.7" cy="211.3" r="1.75"/><circle cx="202.9" cy="260.4" r="1.75"/><circle cx="198.5" cy="231.7" r="1.75"/><circle cx="193.8" cy="255.4" r="1.75"/><circle cx="177.4" cy="192.3" r="1.75"/><circle cx="194.2" cy="249.3" r="1.75"/><circle cx="188.3" cy="254.4" r="1.75"/><circle cx="176.9" cy="228.2" r="1.75"/><circle cx="182.2" cy="244.6" r="1.75"/><circle cx="218.3" cy="247.4" r="1.75"/><circle cx="203.0" cy="256.2" r="1.75"/><circle cx="221.6" cy="250.6" r="1.75"/><circle cx="185.9" cy="213.0" r="1.75"/><circle cx="197.0" cy="268.5" r="1.75"/><circle cx="198.1" cy="250.2" r="1.75"/><circle cx="184.2" cy="237.4" r="1.75"/><circle cx="160.9" cy="242.8" r="1.75"/><circle cx="180.2" cy="209.1" r="1.75"/><circle cx="173.7" cy="211.3" r="1.75"/><circle cx="204.3" cy="266.6" r="1.75"/><circle cx="162.2" cy="241.0" r="1.75"/><circle cx="204.9" cy="233.3" r="1.75"/><circle cx="159.8" cy="205.3" r="1.75"/><circle cx="176.0" cy="236.5" r="1.75"/><circle cx="192.4" cy="206.9" r="1.75"/><circle cx="205.2" cy="220.6" r="1.75"/><circle cx="174.8" cy="211.3" r="1.75"/><circle cx="177.7" cy="257.0" r="1.75"/><circle cx="204.2" cy="257.2" r="1.75"/><circle cx="194.1" cy="207.5" r="1.75"/><circle cx="178.1" cy="219.3" r="1.75"/><circle cx="169.4" cy="236.3" r="1.75"/><circle cx="173.9" cy="213.8" r="1.75"/><circle cx="199.3" cy="269.5" r="1.75"/><circle cx="191.3" cy="217.7" r="1.75"/><circle cx="211.1" cy="254.7" r="1.75"/><circle cx="205.6" cy="276.0" r="1.75"/><circle cx="209.4" cy="238.6" r="1.75"/><circle cx="208.0" cy="262.8" r="1.75"/><circle cx="158.8" cy="211.8" r="1.75"/><circle cx="160.9" cy="219.0" r="1.75"/><circle cx="199.0" cy="220.0" r="1.75"/><circle cx="195.2" cy="270.1" r="1.75"/><circle cx="162.9" cy="244.1" r="1.75"/><circle cx="184.0" cy="239.4" r="1.75"/><circle cx="185.1" cy="254.9" r="1.75"/><circle cx="207.7" cy="248.5" r="1.75"/><circle cx="162.2" cy="237.2" r="1.75"/><circle cx="179.1" cy="244.1" r="1.75"/><circle cx="193.0" cy="272.1" r="1.75"/><circle cx="209.6" cy="238.5" r="1.75"/><circle cx="194.6" cy="275.8" r="1.75"/><circle cx="177.8" cy="239.3" r="1.75"/><circle cx="210.6" cy="274.1" r="1.75"/><circle cx="197.9" cy="214.3" r="1.75"/><circle cx="164.0" cy="228.0" r="1.75"/><circle cx="171.6" cy="250.5" r="1.75"/><circle cx="202.6" cy="209.6" r="1.75"/><circle cx="172.5" cy="230.9" r="1.75"/><circle cx="178.6" cy="227.7" r="1.75"/><circle cx="196.9" cy="224.2" r="1.75"/><circle cx="196.9" cy="227.8" r="1.75"/><circle cx="177.7" cy="241.4" r="1.75"/><circle cx="177.1" cy="236.0" r="1.75"/><circle cx="218.4" cy="253.1" r="1.75"/><circle cx="185.2" cy="249.6" r="1.75"/><circle cx="181.1" cy="254.5" r="1.75"/><circle cx="163.6" cy="235.4" r="1.75"/><circle cx="178.3" cy="214.3" r="1.75"/><circle cx="221.6" cy="236.9" r="1.75"/><circle cx="221.4" cy="267.7" r="1.75"/><circle cx="215.6" cy="231.0" r="1.75"/><circle cx="210.8" cy="278.3" r="1.75"/><circle cx="185.8" cy="232.1" r="1.75"/><circle cx="180.0" cy="218.7" r="1.75"/><circle cx="196.5" cy="247.4" r="1.75"/><circle cx="191.4" cy="273.2" r="1.75"/><circle cx="181.8" cy="242.3" r="1.75"/><circle cx="215.7" cy="230.5" r="1.75"/><circle cx="162.3" cy="199.4" r="1.75"/><circle cx="196.6" cy="202.6" r="1.75"/><circle cx="197.5" cy="271.0" r="1.75"/><circle cx="157.3" cy="212.8" r="1.75"/><circle cx="174.0" cy="222.9" r="1.75"/><circle cx="189.0" cy="247.8" r="1.75"/><circle cx="181.4" cy="232.7" r="1.75"/><circle cx="177.6" cy="232.7" r="1.75"/><circle cx="165.7" cy="225.2" r="1.75"/><circle cx="151.3" cy="205.9" r="1.75"/><circle cx="224.4" cy="257.5" r="1.75"/><circle cx="164.1" cy="228.2" r="1.75"/><circle cx="169.5" cy="192.0" r="1.75"/><circle cx="174.0" cy="243.5" r="1.75"/><circle cx="195.3" cy="238.0" r="1.75"/><circle cx="170.4" cy="204.3" r="1.75"/><circle cx="213.6" cy="255.0" r="1.75"/><circle cx="166.2" cy="222.5" r="1.75"/><circle cx="192.0" cy="234.9" r="1.75"/><circle cx="182.7" cy="204.9" r="1.75"/><circle cx="168.0" cy="259.8" r="1.75"/><circle cx="173.6" cy="245.5" r="1.75"/><circle cx="155.8" cy="212.8" r="1.75"/><circle cx="193.0" cy="260.0" r="1.75"/><circle cx="166.7" cy="236.6" r="1.75"/><circle cx="195.3" cy="224.8" r="1.75"/><circle cx="197.1" cy="222.5" r="1.75"/><circle cx="172.9" cy="227.4" r="1.75"/><circle cx="169.0" cy="195.6" r="1.75"/><circle cx="179.9" cy="247.3" r="1.75"/><circle cx="180.3" cy="257.8" r="1.75"/><circle cx="166.0" cy="197.0" r="1.75"/><circle cx="217.5" cy="260.2" r="1.75"/><circle cx="206.0" cy="228.8" r="1.75"/><circle cx="203.3" cy="249.7" r="1.75"/><circle cx="200.3" cy="243.2" r="1.75"/><circle cx="210.9" cy="235.2" r="1.75"/><circle cx="169.7" cy="195.7" r="1.75"/><circle cx="210.1" cy="232.8" r="1.75"/><circle cx="168.2" cy="205.9" r="1.75"/><circle cx="179.5" cy="205.3" r="1.75"/><circle cx="182.5" cy="220.1" r="1.75"/><circle cx="177.5" cy="210.6" r="1.75"/><circle cx="188.7" cy="226.9" r="1.75"/><circle cx="190.2" cy="242.3" r="1.75"/><circle cx="177.8" cy="214.1" r="1.75"/><circle cx="202.7" cy="211.6" r="1.75"/><circle cx="174.4" cy="222.6" r="1.75"/><circle cx="181.6" cy="252.9" r="1.75"/><circle cx="179.6" cy="251.2" r="1.75"/><circle cx="211.2" cy="257.6" r="1.75"/><circle cx="197.3" cy="243.6" r="1.75"/><circle cx="197.2" cy="216.0" r="1.75"/><circle cx="206.0" cy="234.9" r="1.75"/><circle cx="206.7" cy="248.0" r="1.75"/><circle cx="209.4" cy="244.9" r="1.75"/><circle cx="180.5" cy="236.9" r="1.75"/><circle cx="179.9" cy="220.4" r="1.75"/><circle cx="189.9" cy="240.0" r="1.75"/><circle cx="216.8" cy="252.6" r="1.75"/><circle cx="190.5" cy="240.2" r="1.75"/><circle cx="185.3" cy="219.5" r="1.75"/><circle cx="186.7" cy="222.2" r="1.75"/><circle cx="219.2" cy="263.9" r="1.75"/><circle cx="179.5" cy="192.0" r="1.75"/><circle cx="187.0" cy="226.9" r="1.75"/><circle cx="167.4" cy="201.4" r="1.75"/><circle cx="187.4" cy="232.6" r="1.75"/><circle cx="215.4" cy="253.7" r="1.75"/><circle cx="191.2" cy="230.1" r="1.75"/><circle cx="176.5" cy="260.5" r="1.75"/><circle cx="207.0" cy="281.6" r="1.75"/><circle cx="181.4" cy="233.0" r="1.75"/><circle cx="171.3" cy="246.7" r="1.75"/><circle cx="161.5" cy="233.2" r="1.75"/><circle cx="208.8" cy="276.3" r="1.75"/><circle cx="170.1" cy="248.7" r="1.75"/><circle cx="174.4" cy="213.1" r="1.75"/><circle cx="162.9" cy="246.0" r="1.75"/><circle cx="219.3" cy="240.9" r="1.75"/><circle cx="173.6" cy="221.2" r="1.75"/><circle cx="177.7" cy="193.5" r="1.75"/><circle cx="175.2" cy="253.4" r="1.75"/><circle cx="223.5" cy="249.9" r="1.75"/><circle cx="174.9" cy="218.4" r="1.75"/><circle cx="167.4" cy="246.6" r="1.75"/><circle cx="193.5" cy="223.3" r="1.75"/><circle cx="202.8" cy="244.3" r="1.75"/><circle cx="165.7" cy="236.6" r="1.75"/><circle cx="222.7" cy="265.1" r="1.75"/><circle cx="174.3" cy="221.4" r="1.75"/></g>
<line x1="52.5" y1="179.4" x2="261.5" y2="259.6" stroke="#444" stroke-width="1"/>
<rect x="313.5" y="119.8" width="210" height="192.7" fill="#efefef"/>
<line x1="313.5" y1="119.8" x2="523.5" y2="119.8" stroke="#999" stroke-width="1.3"/>
<line x1="523.5" y1="119.8" x2="523.5" y2="312.5" stroke="#888" stroke-width="1"/>
<line x1="313.5" y1="312.5" x2="523.5" y2="312.5" stroke="#777" stroke-width="1"/>
<line x1="313.5" y1="119.8" x2="313.5" y2="313" stroke="#555" stroke-width="1"/>
<line x1="310" y1="125.5" x2="313.5" y2="125.5" stroke="#555" stroke-width="1"/>
<text x="309.9" y="130.55" font-size="10" text-anchor="end" fill="#1a1a1a">25</text>
<line x1="310" y1="161.5" x2="313.5" y2="161.5" stroke="#555" stroke-width="1"/>
<text x="309.9" y="166.8" font-size="10" text-anchor="end" fill="#1a1a1a">20</text>
<line x1="310" y1="197.5" x2="313.5" y2="197.5" stroke="#555" stroke-width="1"/>
<text x="309.9" y="203.05" font-size="10" text-anchor="end" fill="#1a1a1a">15</text>
<line x1="310" y1="234.5" x2="313.5" y2="234.5" stroke="#555" stroke-width="1"/>
<text x="309.9" y="239.3" font-size="10" text-anchor="end" fill="#1a1a1a">10</text>
<line x1="310" y1="270.5" x2="313.5" y2="270.5" stroke="#555" stroke-width="1"/>
<text x="309.9" y="275.55" font-size="10" text-anchor="end" fill="#1a1a1a">5</text>
<line x1="310" y1="306.5" x2="313.5" y2="306.5" stroke="#555" stroke-width="1"/>
<text x="309.9" y="311.8" font-size="10" text-anchor="end" fill="#1a1a1a">0</text>
<line x1="323.5" y1="312.5" x2="323.5" y2="316" stroke="#555" stroke-width="1"/>
<text x="322.9" y="326.6" font-size="10" text-anchor="middle" fill="#1a1a1a">-100</text>
<line x1="370.5" y1="312.5" x2="370.5" y2="316" stroke="#555" stroke-width="1"/>
<text x="370.5" y="326.6" font-size="10" text-anchor="middle" fill="#1a1a1a">-50</text>
<line x1="418.5" y1="312.5" x2="418.5" y2="316" stroke="#555" stroke-width="1"/>
<text x="418.2" y="326.6" font-size="10" text-anchor="middle" fill="#1a1a1a">0</text>
<line x1="466.5" y1="312.5" x2="466.5" y2="316" stroke="#555" stroke-width="1"/>
<text x="465.8" y="326.6" font-size="10" text-anchor="middle" fill="#1a1a1a">50</text>
<line x1="513.5" y1="312.5" x2="513.5" y2="316" stroke="#555" stroke-width="1"/>
<text x="513.4" y="326.6" font-size="10" text-anchor="middle" fill="#1a1a1a">100</text>
<g fill="none" stroke="#151515" stroke-width="0.75"><circle cx="371.8" cy="132.6" r="1.75"/><circle cx="384.4" cy="132.6" r="1.75"/><circle cx="384.4" cy="132.6" r="1.75"/><circle cx="391.0" cy="132.6" r="1.75"/><circle cx="395.5" cy="132.6" r="1.75"/><circle cx="399.7" cy="132.6" r="1.75"/><circle cx="416.1" cy="132.6" r="1.75"/><circle cx="407.0" cy="132.6" r="1.75"/><circle cx="411.9" cy="132.6" r="1.75"/><circle cx="413.3" cy="132.6" r="1.75"/><circle cx="413.1" cy="132.6" r="1.75"/><circle cx="407.7" cy="132.6" r="1.75"/><circle cx="414.0" cy="132.6" r="1.75"/><circle cx="417.1" cy="132.6" r="1.75"/><circle cx="410.3" cy="132.6" r="1.75"/><circle cx="415.4" cy="132.6" r="1.75"/><circle cx="413.4" cy="132.6" r="1.75"/><circle cx="406.6" cy="132.6" r="1.75"/><circle cx="415.3" cy="132.6" r="1.75"/><circle cx="413.0" cy="132.6" r="1.75"/><circle cx="412.2" cy="132.6" r="1.75"/><circle cx="404.1" cy="132.6" r="1.75"/><circle cx="407.5" cy="132.6" r="1.75"/><circle cx="411.4" cy="132.6" r="1.75"/><circle cx="410.7" cy="132.6" r="1.75"/><circle cx="403.9" cy="132.6" r="1.75"/><circle cx="414.9" cy="132.6" r="1.75"/><circle cx="435.7" cy="132.6" r="1.75"/><circle cx="445.4" cy="132.6" r="1.75"/><circle cx="365.8" cy="139.9" r="1.75"/><circle cx="377.1" cy="139.9" r="1.75"/><circle cx="382.9" cy="139.9" r="1.75"/><circle cx="402.7" cy="139.9" r="1.75"/><circle cx="416.1" cy="139.9" r="1.75"/><circle cx="414.4" cy="139.9" r="1.75"/><circle cx="387.5" cy="139.9" r="1.75"/><circle cx="392.0" cy="139.9" r="1.75"/><circle cx="387.9" cy="139.9" r="1.75"/><circle cx="407.2" cy="139.9" r="1.75"/><circle cx="401.6" cy="139.9" r="1.75"/><circle cx="394.4" cy="139.9" r="1.75"/><circle cx="399.2" cy="139.9" r="1.75"/><circle cx="411.9" cy="139.9" r="1.75"/><circle cx="400.4" cy="139.9" r="1.75"/><circle cx="416.7" cy="139.9" r="1.75"/><circle cx="390.4" cy="139.9" r="1.75"/><circle cx="397.4" cy="139.9" r="1.75"/><circle cx="413.7" cy="139.9" r="1.75"/><circle cx="411.1" cy="139.9" r="1.75"/><circle cx="412.0" cy="139.9" r="1.75"/><circle cx="390.8" cy="139.9" r="1.75"/><circle cx="411.8" cy="139.9" r="1.75"/><circle cx="404.9" cy="139.9" r="1.75"/><circle cx="393.0" cy="139.9" r="1.75"/><circle cx="390.2" cy="139.9" r="1.75"/><circle cx="391.6" cy="139.9" r="1.75"/><circle cx="390.8" cy="139.9" r="1.75"/><circle cx="397.8" cy="139.9" r="1.75"/><circle cx="387.4" cy="139.9" r="1.75"/><circle cx="404.5" cy="139.9" r="1.75"/><circle cx="402.5" cy="139.9" r="1.75"/><circle cx="389.3" cy="139.9" r="1.75"/><circle cx="409.5" cy="139.9" r="1.75"/><circle cx="397.0" cy="139.9" r="1.75"/><circle cx="403.7" cy="139.9" r="1.75"/><circle cx="393.3" cy="139.9" r="1.75"/><circle cx="408.8" cy="139.9" r="1.75"/><circle cx="402.3" cy="139.9" r="1.75"/><circle cx="399.3" cy="139.9" r="1.75"/><circle cx="394.8" cy="139.9" r="1.75"/><circle cx="394.2" cy="139.9" r="1.75"/><circle cx="423.1" cy="139.9" r="1.75"/><circle cx="423.1" cy="139.9" r="1.75"/><circle cx="428.3" cy="139.9" r="1.75"/><circle cx="432.8" cy="139.9" r="1.75"/><circle cx="455.9" cy="139.9" r="1.75"/><circle cx="367.4" cy="147.1" r="1.75"/><circle cx="367.4" cy="147.1" r="1.75"/><circle cx="392.9" cy="147.1" r="1.75"/><circle cx="406.5" cy="147.1" r="1.75"/><circle cx="427.3" cy="147.1" r="1.75"/><circle cx="394.5" cy="147.1" r="1.75"/><circle cx="389.3" cy="147.1" r="1.75"/><circle cx="395.7" cy="147.1" r="1.75"/><circle cx="431.3" cy="147.1" r="1.75"/><circle cx="391.2" cy="147.1" r="1.75"/><circle cx="397.3" cy="147.1" r="1.75"/><circle cx="432.3" cy="147.1" r="1.75"/><circle cx="422.1" cy="147.1" r="1.75"/><circle cx="382.3" cy="147.1" r="1.75"/><circle cx="423.6" cy="147.1" r="1.75"/><circle cx="392.4" cy="147.1" r="1.75"/><circle cx="397.5" cy="147.1" r="1.75"/><circle cx="384.7" cy="147.1" r="1.75"/><circle cx="401.0" cy="147.1" r="1.75"/><circle cx="379.1" cy="147.1" r="1.75"/><circle cx="396.9" cy="147.1" r="1.75"/><circle cx="410.5" cy="147.1" r="1.75"/><circle cx="415.5" cy="147.1" r="1.75"/><circle cx="377.8" cy="147.1" r="1.75"/><circle cx="407.6" cy="147.1" r="1.75"/><circle cx="422.3" cy="147.1" r="1.75"/><circle cx="424.1" cy="147.1" r="1.75"/><circle cx="389.1" cy="147.1" r="1.75"/><circle cx="414.1" cy="147.1" r="1.75"/><circle cx="385.0" cy="147.1" r="1.75"/><circle cx="389.7" cy="147.1" r="1.75"/><circle cx="409.4" cy="147.1" r="1.75"/><circle cx="404.9" cy="147.1" r="1.75"/><circle cx="404.7" cy="147.1" r="1.75"/><circle cx="416.6" cy="147.1" r="1.75"/><circle cx="409.3" cy="147.1" r="1.75"/><circle cx="407.7" cy="147.1" r="1.75"/><circle cx="426.0" cy="147.1" r="1.75"/><circle cx="404.0" cy="147.1" r="1.75"/><circle cx="390.6" cy="147.1" r="1.75"/><circle cx="386.0" cy="147.1" r="1.75"/><circle cx="388.9" cy="147.1" r="1.75"/><circle cx="377.7" cy="147.1" r="1.75"/><circle cx="380.3" cy="147.1" r="1.75"/><circle cx="406.7" cy="147.1" r="1.75"/><circle cx="402.9" cy="147.1" r="1.75"/><circle cx="378.9" cy="147.1" r="1.75"/><circle cx="403.8" cy="147.1" r="1.75"/><circle cx="381.2" cy="147.1" r="1.75"/><circle cx="382.1" cy="147.1" r="1.75"/><circle cx="404.0" cy="147.1" r="1.75"/><circle cx="401.1" cy="147.1" r="1.75"/><circle cx="413.5" cy="147.1" r="1.75"/><circle cx="424.0" cy="147.1" r="1.75"/><circle cx="413.8" cy="147.1" r="1.75"/><circle cx="391.2" cy="147.1" r="1.75"/><circle cx="399.9" cy="147.1" r="1.75"/><circle cx="425.1" cy="147.1" r="1.75"/><circle cx="400.8" cy="147.1" r="1.75"/><circle cx="430.4" cy="147.1" r="1.75"/><circle cx="399.1" cy="147.1" r="1.75"/><circle cx="400.6" cy="147.1" r="1.75"/><circle cx="399.8" cy="147.1" r="1.75"/><circle cx="378.7" cy="147.1" r="1.75"/><circle cx="425.0" cy="147.1" r="1.75"/><circle cx="424.4" cy="147.1" r="1.75"/><circle cx="394.1" cy="147.1" r="1.75"/><circle cx="414.4" cy="147.1" r="1.75"/><circle cx="406.3" cy="147.1" r="1.75"/><circle cx="399.9" cy="147.1" r="1.75"/><circle cx="415.2" cy="147.1" r="1.75"/><circle cx="392.1" cy="147.1" r="1.75"/><circle cx="395.2" cy="147.1" r="1.75"/><circle cx="397.3" cy="147.1" r="1.75"/><circle cx="405.8" cy="147.1" r="1.75"/><circle cx="381.3" cy="147.1" r="1.75"/><circle cx="391.4" cy="147.1" r="1.75"/><circle cx="442.8" cy="147.1" r="1.75"/><circle cx="449.3" cy="147.1" r="1.75"/><circle cx="463.0" cy="147.1" r="1.75"/><circle cx="474.3" cy="147.1" r="1.75"/><circle cx="478.3" cy="147.1" r="1.75"/><circle cx="344.2" cy="154.4" r="1.75"/><circle cx="359.2" cy="154.4" r="1.75"/><circle cx="363.9" cy="154.4" r="1.75"/><circle cx="367.9" cy="154.4" r="1.75"/><circle cx="371.3" cy="154.4" r="1.75"/><circle cx="390.0" cy="154.4" r="1.75"/><circle cx="379.5" cy="154.4" r="1.75"/><circle cx="412.7" cy="154.4" r="1.75"/><circle cx="397.1" cy="154.4" r="1.75"/><circle cx="401.2" cy="154.4" r="1.75"/><circle cx="395.3" cy="154.4" r="1.75"/><circle cx="386.5" cy="154.4" r="1.75"/><circle cx="400.2" cy="154.4" r="1.75"/><circle cx="393.3" cy="154.4" r="1.75"/><circle cx="395.7" cy="154.4" r="1.75"/><circle cx="389.8" cy="154.4" r="1.75"/><circle cx="402.8" cy="154.4" r="1.75"/><circle cx="378.4" cy="154.4" r="1.75"/><circle cx="388.0" cy="154.4" r="1.75"/><circle cx="397.9" cy="154.4" r="1.75"/><circle cx="383.7" cy="154.4" r="1.75"/><circle cx="398.2" cy="154.4" r="1.75"/><circle cx="393.3" cy="154.4" r="1.75"/><circle cx="413.1" cy="154.4" r="1.75"/><circle cx="407.7" cy="154.4" r="1.75"/><circle cx="407.1" cy="154.4" r="1.75"/><circle cx="417.2" cy="154.4" r="1.75"/><circle cx="420.3" cy="154.4" r="1.75"/><circle cx="414.8" cy="154.4" r="1.75"/><circle cx="413.0" cy="154.4" r="1.75"/><circle cx="406.2" cy="154.4" r="1.75"/><circle cx="400.6" cy="154.4" r="1.75"/><circle cx="398.8" cy="154.4" r="1.75"/><circle cx="392.8" cy="154.4" r="1.75"/><circle cx="393.4" cy="154.4" r="1.75"/><circle cx="410.1" cy="154.4" r="1.75"/><circle cx="384.6" cy="154.4" r="1.75"/><circle cx="382.5" cy="154.4" r="1.75"/><circle cx="392.4" cy="154.4" r="1.75"/><circle cx="405.3" cy="154.4" r="1.75"/><circle cx="405.2" cy="154.4" r="1.75"/><circle cx="422.4" cy="154.4" r="1.75"/><circle cx="377.4" cy="154.4" r="1.75"/><circle cx="411.9" cy="154.4" r="1.75"/><circle cx="415.0" cy="154.4" r="1.75"/><circle cx="406.3" cy="154.4" r="1.75"/><circle cx="393.6" cy="154.4" r="1.75"/><circle cx="408.8" cy="154.4" r="1.75"/><circle cx="391.2" cy="154.4" r="1.75"/><circle cx="395.8" cy="154.4" r="1.75"/><circle cx="412.8" cy="154.4" r="1.75"/><circle cx="399.1" cy="154.4" r="1.75"/><circle cx="409.8" cy="154.4" r="1.75"/><circle cx="400.6" cy="154.4" r="1.75"/><circle cx="425.9" cy="154.4" r="1.75"/><circle cx="391.2" cy="154.4" r="1.75"/><circle cx="414.3" cy="154.4" r="1.75"/><circle cx="409.0" cy="154.4" r="1.75"/><circle cx="390.1" cy="154.4" r="1.75"/><circle cx="393.0" cy="154.4" r="1.75"/><circle cx="407.8" cy="154.4" r="1.75"/><circle cx="410.0" cy="154.4" r="1.75"/><circle cx="386.8" cy="154.4" r="1.75"/><circle cx="400.9" cy="154.4" r="1.75"/><circle cx="390.8" cy="154.4" r="1.75"/><circle cx="407.6" cy="154.4" r="1.75"/><circle cx="400.9" cy="154.4" r="1.75"/><circle cx="398.7" cy="154.4" r="1.75"/><circle cx="415.9" cy="154.4" r="1.75"/><circle cx="381.3" cy="154.4" r="1.75"/><circle cx="431.5" cy="154.4" r="1.75"/><circle cx="460.4" cy="154.4" r="1.75"/><circle cx="356.8" cy="161.6" r="1.75"/><circle cx="364.5" cy="161.6" r="1.75"/><circle cx="368.7" cy="161.6" r="1.75"/><circle cx="372.3" cy="161.6" r="1.75"/><circle cx="428.8" cy="161.6" r="1.75"/><circle cx="383.4" cy="161.6" r="1.75"/><circle cx="412.5" cy="161.6" r="1.75"/><circle cx="425.4" cy="161.6" r="1.75"/><circle cx="377.4" cy="161.6" r="1.75"/><circle cx="412.3" cy="161.6" r="1.75"/><circle cx="388.2" cy="161.6" r="1.75"/><circle cx="383.4" cy="161.6" r="1.75"/><circle cx="408.6" cy="161.6" r="1.75"/><circle cx="403.1" cy="161.6" r="1.75"/><circle cx="437.9" cy="161.6" r="1.75"/><circle cx="424.7" cy="161.6" r="1.75"/><circle cx="386.6" cy="161.6" r="1.75"/><circle cx="416.8" cy="161.6" r="1.75"/><circle cx="415.1" cy="161.6" r="1.75"/><circle cx="426.7" cy="161.6" r="1.75"/><circle cx="398.3" cy="161.6" r="1.75"/><circle cx="394.8" cy="161.6" r="1.75"/><circle cx="420.5" cy="161.6" r="1.75"/><circle cx="388.5" cy="161.6" r="1.75"/><circle cx="389.4" cy="161.6" r="1.75"/><circle cx="405.9" cy="161.6" r="1.75"/><circle cx="413.3" cy="161.6" r="1.75"/><circle cx="404.3" cy="161.6" r="1.75"/><circle cx="385.0" cy="161.6" r="1.75"/><circle cx="397.1" cy="161.6" r="1.75"/><circle cx="396.1" cy="161.6" r="1.75"/><circle cx="379.0" cy="161.6" r="1.75"/><circle cx="393.7" cy="161.6" r="1.75"/><circle cx="389.0" cy="161.6" r="1.75"/><circle cx="396.2" cy="161.6" r="1.75"/><circle cx="409.7" cy="161.6" r="1.75"/><circle cx="426.3" cy="161.6" r="1.75"/><circle cx="442.5" cy="161.6" r="1.75"/><circle cx="442.0" cy="161.6" r="1.75"/><circle cx="400.0" cy="161.6" r="1.75"/><circle cx="425.2" cy="161.6" r="1.75"/><circle cx="438.5" cy="161.6" r="1.75"/><circle cx="397.7" cy="161.6" r="1.75"/><circle cx="413.9" cy="161.6" r="1.75"/><circle cx="411.9" cy="161.6" r="1.75"/><circle cx="412.4" cy="161.6" r="1.75"/><circle cx="421.8" cy="161.6" r="1.75"/><circle cx="400.7" cy="161.6" r="1.75"/><circle cx="388.7" cy="161.6" r="1.75"/><circle cx="410.4" cy="161.6" r="1.75"/><circle cx="415.2" cy="161.6" r="1.75"/><circle cx="411.0" cy="161.6" r="1.75"/><circle cx="381.1" cy="161.6" r="1.75"/><circle cx="392.1" cy="161.6" r="1.75"/><circle cx="425.9" cy="161.6" r="1.75"/><circle cx="404.3" cy="161.6" r="1.75"/><circle cx="433.6" cy="161.6" r="1.75"/><circle cx="390.6" cy="161.6" r="1.75"/><circle cx="423.3" cy="161.6" r="1.75"/><circle cx="402.9" cy="161.6" r="1.75"/><circle cx="409.2" cy="161.6" r="1.75"/><circle cx="410.3" cy="161.6" r="1.75"/><circle cx="384.5" cy="161.6" r="1.75"/><circle cx="426.4" cy="161.6" r="1.75"/><circle cx="379.3" cy="161.6" r="1.75"/><circle cx="390.2" cy="161.6" r="1.75"/><circle cx="402.8" cy="161.6" r="1.75"/><circle cx="398.0" cy="161.6" r="1.75"/><circle cx="411.6" cy="161.6" r="1.75"/><circle cx="410.0" cy="161.6" r="1.75"/><circle cx="423.7" cy="161.6" r="1.75"/><circle cx="376.6" cy="161.6" r="1.75"/><circle cx="413.1" cy="161.6" r="1.75"/><circle cx="435.4" cy="161.6" r="1.75"/><circle cx="386.6" cy="161.6" r="1.75"/><circle cx="431.0" cy="161.6" r="1.75"/><circle cx="439.5" cy="161.6" r="1.75"/><circle cx="403.4" cy="161.6" r="1.75"/><circle cx="428.0" cy="161.6" r="1.75"/><circle cx="389.3" cy="161.6" r="1.75"/><circle cx="423.2" cy="161.6" r="1.75"/><circle cx="430.6" cy="161.6" r="1.75"/><circle cx="394.0" cy="161.6" r="1.75"/><circle cx="408.9" cy="161.6" r="1.75"/><circle cx="407.2" cy="161.6" r="1.75"/><circle cx="424.9" cy="161.6" r="1.75"/><circle cx="404.4" cy="161.6" r="1.75"/><circle cx="417.2" cy="161.6" r="1.75"/><circle cx="380.6" cy="161.6" r="1.75"/><circle cx="404.9" cy="161.6" r="1.75"/><circle cx="441.5" cy="161.6" r="1.75"/><circle cx="469.1" cy="161.6" r="1.75"/><circle cx="479.0" cy="161.6" r="1.75"/><circle cx="479.0" cy="161.6" r="1.75"/><circle cx="493.2" cy="161.6" r="1.75"/><circle cx="355.3" cy="168.9" r="1.75"/><circle cx="364.7" cy="168.9" r="1.75"/><circle cx="368.4" cy="168.9" r="1.75"/><circle cx="371.8" cy="168.9" r="1.75"/><circle cx="375.8" cy="168.9" r="1.75"/><circle cx="379.7" cy="168.9" r="1.75"/><circle cx="393.9" cy="168.9" r="1.75"/><circle cx="407.6" cy="168.9" r="1.75"/><circle cx="391.4" cy="168.9" r="1.75"/><circle cx="407.1" cy="168.9" r="1.75"/><circle cx="393.5" cy="168.9" r="1.75"/><circle cx="395.4" cy="168.9" r="1.75"/><circle cx="411.4" cy="168.9" r="1.75"/><circle cx="399.2" cy="168.9" r="1.75"/><circle cx="401.5" cy="168.9" r="1.75"/><circle cx="399.5" cy="168.9" r="1.75"/><circle cx="395.6" cy="168.9" r="1.75"/><circle cx="385.2" cy="168.9" r="1.75"/><circle cx="390.0" cy="168.9" r="1.75"/><circle cx="392.9" cy="168.9" r="1.75"/><circle cx="399.4" cy="168.9" r="1.75"/><circle cx="389.0" cy="168.9" r="1.75"/><circle cx="383.5" cy="168.9" r="1.75"/><circle cx="397.6" cy="168.9" r="1.75"/><circle cx="409.9" cy="168.9" r="1.75"/><circle cx="400.1" cy="168.9" r="1.75"/><circle cx="389.7" cy="168.9" r="1.75"/><circle cx="399.2" cy="168.9" r="1.75"/><circle cx="410.2" cy="168.9" r="1.75"/><circle cx="391.7" cy="168.9" r="1.75"/><circle cx="384.1" cy="168.9" r="1.75"/><circle cx="402.8" cy="168.9" r="1.75"/><circle cx="405.3" cy="168.9" r="1.75"/><circle cx="402.1" cy="168.9" r="1.75"/><circle cx="410.4" cy="168.9" r="1.75"/><circle cx="389.5" cy="168.9" r="1.75"/><circle cx="395.1" cy="168.9" r="1.75"/><circle cx="403.9" cy="168.9" r="1.75"/><circle cx="384.6" cy="168.9" r="1.75"/><circle cx="408.2" cy="168.9" r="1.75"/><circle cx="415.2" cy="168.9" r="1.75"/><circle cx="400.4" cy="168.9" r="1.75"/><circle cx="393.5" cy="168.9" r="1.75"/><circle cx="396.4" cy="168.9" r="1.75"/><circle cx="398.5" cy="168.9" r="1.75"/><circle cx="385.4" cy="168.9" r="1.75"/><circle cx="389.7" cy="168.9" r="1.75"/><circle cx="397.8" cy="168.9" r="1.75"/><circle cx="404.1" cy="168.9" r="1.75"/><circle cx="427.7" cy="168.9" r="1.75"/><circle cx="424.9" cy="168.9" r="1.75"/><circle cx="427.7" cy="168.9" r="1.75"/><circle cx="426.4" cy="168.9" r="1.75"/><circle cx="425.5" cy="168.9" r="1.75"/><circle cx="423.9" cy="168.9" r="1.75"/><circle cx="424.4" cy="168.9" r="1.75"/><circle cx="430.7" cy="168.9" r="1.75"/><circle cx="430.2" cy="168.9" r="1.75"/><circle cx="428.2" cy="168.9" r="1.75"/><circle cx="427.8" cy="168.9" r="1.75"/><circle cx="425.4" cy="168.9" r="1.75"/><circle cx="439.1" cy="168.9" r="1.75"/><circle cx="463.3" cy="168.9" r="1.75"/><circle cx="470.4" cy="168.9" r="1.75"/><circle cx="484.3" cy="168.9" r="1.75"/><circle cx="347.6" cy="176.1" r="1.75"/><circle cx="361.3" cy="176.1" r="1.75"/><circle cx="366.6" cy="176.1" r="1.75"/><circle cx="395.7" cy="176.1" r="1.75"/><circle cx="387.2" cy="176.1" r="1.75"/><circle cx="378.1" cy="176.1" r="1.75"/><circle cx="384.2" cy="176.1" r="1.75"/><circle cx="392.3" cy="176.1" r="1.75"/><circle cx="394.4" cy="176.1" r="1.75"/><circle cx="383.8" cy="176.1" r="1.75"/><circle cx="408.3" cy="176.1" r="1.75"/><circle cx="392.7" cy="176.1" r="1.75"/><circle cx="377.6" cy="176.1" r="1.75"/><circle cx="388.2" cy="176.1" r="1.75"/><circle cx="389.4" cy="176.1" r="1.75"/><circle cx="393.7" cy="176.1" r="1.75"/><circle cx="383.4" cy="176.1" r="1.75"/><circle cx="390.9" cy="176.1" r="1.75"/><circle cx="398.4" cy="176.1" r="1.75"/><circle cx="395.3" cy="176.1" r="1.75"/><circle cx="391.9" cy="176.1" r="1.75"/><circle cx="380.5" cy="176.1" r="1.75"/><circle cx="399.8" cy="176.1" r="1.75"/><circle cx="403.9" cy="176.1" r="1.75"/><circle cx="383.1" cy="176.1" r="1.75"/><circle cx="374.5" cy="176.1" r="1.75"/><circle cx="383.8" cy="176.1" r="1.75"/><circle cx="399.3" cy="176.1" r="1.75"/><circle cx="401.6" cy="176.1" r="1.75"/><circle cx="394.0" cy="176.1" r="1.75"/><circle cx="395.3" cy="176.1" r="1.75"/><circle cx="392.2" cy="176.1" r="1.75"/><circle cx="402.4" cy="176.1" r="1.75"/><circle cx="388.7" cy="176.1" r="1.75"/><circle cx="386.4" cy="176.1" r="1.75"/><circle cx="394.0" cy="176.1" r="1.75"/><circle cx="382.6" cy="176.1" r="1.75"/><circle cx="406.3" cy="176.1" r="1.75"/><circle cx="376.5" cy="176.1" r="1.75"/><circle cx="404.9" cy="176.1" r="1.75"/><circle cx="395.3" cy="176.1" r="1.75"/><circle cx="400.5" cy="176.1" r="1.75"/><circle cx="379.5" cy="176.1" r="1.75"/><circle cx="397.6" cy="176.1" r="1.75"/><circle cx="392.5" cy="176.1" r="1.75"/><circle cx="379.8" cy="176.1" r="1.75"/><circle cx="406.2" cy="176.1" r="1.75"/><circle cx="381.0" cy="176.1" r="1.75"/><circle cx="394.6" cy="176.1" r="1.75"/><circle cx="380.0" cy="176.1" r="1.75"/><circle cx="398.4" cy="176.1" r="1.75"/><circle cx="419.2" cy="176.1" r="1.75"/><circle cx="428.2" cy="176.1" r="1.75"/><circle cx="417.9" cy="176.1" r="1.75"/><circle cx="422.6" cy="176.1" r="1.75"/><circle cx="421.4" cy="176.1" r="1.75"/><circle cx="424.1" cy="176.1" r="1.75"/><circle cx="416.8" cy="176.1" r="1.75"/><circle cx="429.5" cy="176.1" r="1.75"/><circle cx="418.4" cy="176.1" r="1.75"/><circle cx="420.1" cy="176.1" r="1.75"/><circle cx="422.0" cy="176.1" r="1.75"/><circle cx="429.3" cy="176.1" r="1.75"/><circle cx="423.9" cy="176.1" r="1.75"/><circle cx="427.3" cy="176.1" r="1.75"/><circle cx="423.1" cy="176.1" r="1.75"/><circle cx="426.9" cy="176.1" r="1.75"/><circle cx="431.7" cy="176.1" r="1.75"/><circle cx="439.1" cy="176.1" r="1.75"/><circle cx="458.5" cy="176.1" r="1.75"/><circle cx="463.3" cy="176.1" r="1.75"/><circle cx="466.4" cy="176.1" r="1.75"/><circle cx="363.9" cy="183.4" r="1.75"/><circle cx="370.5" cy="183.4" r="1.75"/><circle cx="395.7" cy="183.4" r="1.75"/><circle cx="394.5" cy="183.4" r="1.75"/><circle cx="389.5" cy="183.4" r="1.75"/><circle cx="388.9" cy="183.4" r="1.75"/><circle cx="376.0" cy="183.4" r="1.75"/><circle cx="382.9" cy="183.4" r="1.75"/><circle cx="385.6" cy="183.4" r="1.75"/><circle cx="380.6" cy="183.4" r="1.75"/><circle cx="378.0" cy="183.4" r="1.75"/><circle cx="397.3" cy="183.4" r="1.75"/><circle cx="386.2" cy="183.4" r="1.75"/><circle cx="380.6" cy="183.4" r="1.75"/><circle cx="382.4" cy="183.4" r="1.75"/><circle cx="393.5" cy="183.4" r="1.75"/><circle cx="391.2" cy="183.4" r="1.75"/><circle cx="383.2" cy="183.4" r="1.75"/><circle cx="389.7" cy="183.4" r="1.75"/><circle cx="389.3" cy="183.4" r="1.75"/><circle cx="397.3" cy="183.4" r="1.75"/><circle cx="387.2" cy="183.4" r="1.75"/><circle cx="381.5" cy="183.4" r="1.75"/><circle cx="378.8" cy="183.4" r="1.75"/><circle cx="411.7" cy="183.4" r="1.75"/><circle cx="408.1" cy="183.4" r="1.75"/><circle cx="410.5" cy="183.4" r="1.75"/><circle cx="408.4" cy="183.4" r="1.75"/><circle cx="412.6" cy="183.4" r="1.75"/><circle cx="412.9" cy="183.4" r="1.75"/><circle cx="406.2" cy="183.4" r="1.75"/><circle cx="409.7" cy="183.4" r="1.75"/><circle cx="412.6" cy="183.4" r="1.75"/><circle cx="407.2" cy="183.4" r="1.75"/><circle cx="419.1" cy="183.4" r="1.75"/><circle cx="428.3" cy="183.4" r="1.75"/><circle cx="439.7" cy="183.4" r="1.75"/><circle cx="437.5" cy="183.4" r="1.75"/><circle cx="436.5" cy="183.4" r="1.75"/><circle cx="438.9" cy="183.4" r="1.75"/><circle cx="438.6" cy="183.4" r="1.75"/><circle cx="442.3" cy="183.4" r="1.75"/><circle cx="449.9" cy="183.4" r="1.75"/><circle cx="483.0" cy="183.4" r="1.75"/><circle cx="329.8" cy="190.6" r="1.75"/><circle cx="356.0" cy="190.6" r="1.75"/><circle cx="358.7" cy="190.6" r="1.75"/><circle cx="358.7" cy="190.6" r="1.75"/><circle cx="363.9" cy="190.6" r="1.75"/><circle cx="375.8" cy="190.6" r="1.75"/><circle cx="375.8" cy="190.6" r="1.75"/><circle cx="381.8" cy="190.6" r="1.75"/><circle cx="385.0" cy="190.6" r="1.75"/><circle cx="394.4" cy="190.6" r="1.75"/><circle cx="394.4" cy="190.6" r="1.75"/><circle cx="390.5" cy="190.6" r="1.75"/><circle cx="397.0" cy="190.6" r="1.75"/><circle cx="397.5" cy="190.6" r="1.75"/><circle cx="394.6" cy="190.6" r="1.75"/><circle cx="395.3" cy="190.6" r="1.75"/><circle cx="394.5" cy="190.6" r="1.75"/><circle cx="396.4" cy="190.6" r="1.75"/><circle cx="403.4" cy="190.6" r="1.75"/><circle cx="407.3" cy="190.6" r="1.75"/><circle cx="411.2" cy="190.6" r="1.75"/><circle cx="415.2" cy="190.6" r="1.75"/><circle cx="424.8" cy="190.6" r="1.75"/><circle cx="426.6" cy="190.6" r="1.75"/><circle cx="424.6" cy="190.6" r="1.75"/><circle cx="419.9" cy="190.6" r="1.75"/><circle cx="426.0" cy="190.6" r="1.75"/><circle cx="426.2" cy="190.6" r="1.75"/><circle cx="427.1" cy="190.6" r="1.75"/><circle cx="419.4" cy="190.6" r="1.75"/><circle cx="419.8" cy="190.6" r="1.75"/><circle cx="433.6" cy="190.6" r="1.75"/><circle cx="437.0" cy="190.6" r="1.75"/><circle cx="446.2" cy="190.6" r="1.75"/><circle cx="341.9" cy="197.9" r="1.75"/><circle cx="370.5" cy="197.9" r="1.75"/><circle cx="393.5" cy="197.9" r="1.75"/><circle cx="387.6" cy="197.9" r="1.75"/><circle cx="413.1" cy="197.9" r="1.75"/><circle cx="379.0" cy="197.9" r="1.75"/><circle cx="406.4" cy="197.9" r="1.75"/><circle cx="407.7" cy="197.9" r="1.75"/><circle cx="416.4" cy="197.9" r="1.75"/><circle cx="391.1" cy="197.9" r="1.75"/><circle cx="396.2" cy="197.9" r="1.75"/><circle cx="408.2" cy="197.9" r="1.75"/><circle cx="419.8" cy="197.9" r="1.75"/><circle cx="403.9" cy="197.9" r="1.75"/><circle cx="422.7" cy="197.9" r="1.75"/><circle cx="396.5" cy="197.9" r="1.75"/><circle cx="387.8" cy="197.9" r="1.75"/><circle cx="386.2" cy="197.9" r="1.75"/><circle cx="414.2" cy="197.9" r="1.75"/><circle cx="408.2" cy="197.9" r="1.75"/><circle cx="404.2" cy="197.9" r="1.75"/><circle cx="419.7" cy="197.9" r="1.75"/><circle cx="401.0" cy="197.9" r="1.75"/><circle cx="390.2" cy="197.9" r="1.75"/><circle cx="421.2" cy="197.9" r="1.75"/><circle cx="410.2" cy="197.9" r="1.75"/><circle cx="401.3" cy="197.9" r="1.75"/><circle cx="402.9" cy="197.9" r="1.75"/><circle cx="415.3" cy="197.9" r="1.75"/><circle cx="401.7" cy="197.9" r="1.75"/><circle cx="382.5" cy="197.9" r="1.75"/><circle cx="425.6" cy="197.9" r="1.75"/><circle cx="422.3" cy="197.9" r="1.75"/><circle cx="413.0" cy="197.9" r="1.75"/><circle cx="382.9" cy="197.9" r="1.75"/><circle cx="385.3" cy="197.9" r="1.75"/><circle cx="416.3" cy="197.9" r="1.75"/><circle cx="381.0" cy="197.9" r="1.75"/><circle cx="393.2" cy="197.9" r="1.75"/><circle cx="391.5" cy="197.9" r="1.75"/><circle cx="375.0" cy="197.9" r="1.75"/><circle cx="405.6" cy="197.9" r="1.75"/><circle cx="399.8" cy="197.9" r="1.75"/><circle cx="396.7" cy="197.9" r="1.75"/><circle cx="410.3" cy="197.9" r="1.75"/><circle cx="413.1" cy="197.9" r="1.75"/><circle cx="386.3" cy="197.9" r="1.75"/><circle cx="432.3" cy="197.9" r="1.75"/><circle cx="434.9" cy="197.9" r="1.75"/><circle cx="441.7" cy="197.9" r="1.75"/><circle cx="452.5" cy="197.9" r="1.75"/><circle cx="467.0" cy="197.9" r="1.75"/><circle cx="350.8" cy="205.1" r="1.75"/><circle cx="369.7" cy="205.1" r="1.75"/><circle cx="377.6" cy="205.1" r="1.75"/><circle cx="382.3" cy="205.1" r="1.75"/><circle cx="399.4" cy="205.1" r="1.75"/><circle cx="388.4" cy="205.1" r="1.75"/><circle cx="397.7" cy="205.1" r="1.75"/><circle cx="387.8" cy="205.1" r="1.75"/><circle cx="386.0" cy="205.1" r="1.75"/><circle cx="393.0" cy="205.1" r="1.75"/><circle cx="393.7" cy="205.1" r="1.75"/><circle cx="385.1" cy="205.1" r="1.75"/><circle cx="394.4" cy="205.1" r="1.75"/><circle cx="398.1" cy="205.1" r="1.75"/><circle cx="411.9" cy="205.1" r="1.75"/><circle cx="409.7" cy="205.1" r="1.75"/><circle cx="409.2" cy="205.1" r="1.75"/><circle cx="405.5" cy="205.1" r="1.75"/><circle cx="408.0" cy="205.1" r="1.75"/><circle cx="410.0" cy="205.1" r="1.75"/><circle cx="407.0" cy="205.1" r="1.75"/><circle cx="405.1" cy="205.1" r="1.75"/><circle cx="416.3" cy="205.1" r="1.75"/><circle cx="413.9" cy="205.1" r="1.75"/><circle cx="424.4" cy="205.1" r="1.75"/><circle cx="429.1" cy="205.1" r="1.75"/><circle cx="435.9" cy="205.1" r="1.75"/><circle cx="451.5" cy="205.1" r="1.75"/><circle cx="367.4" cy="212.4" r="1.75"/><circle cx="370.5" cy="212.4" r="1.75"/><circle cx="378.4" cy="212.4" r="1.75"/><circle cx="381.8" cy="212.4" r="1.75"/><circle cx="389.9" cy="212.4" r="1.75"/><circle cx="389.8" cy="212.4" r="1.75"/><circle cx="390.7" cy="212.4" r="1.75"/><circle cx="389.1" cy="212.4" r="1.75"/><circle cx="388.1" cy="212.4" r="1.75"/><circle cx="400.5" cy="212.4" r="1.75"/><circle cx="400.3" cy="212.4" r="1.75"/><circle cx="400.1" cy="212.4" r="1.75"/><circle cx="399.0" cy="212.4" r="1.75"/><circle cx="400.9" cy="212.4" r="1.75"/><circle cx="402.1" cy="212.4" r="1.75"/><circle cx="408.1" cy="212.4" r="1.75"/><circle cx="418.1" cy="212.4" r="1.75"/><circle cx="429.5" cy="212.4" r="1.75"/><circle cx="421.6" cy="212.4" r="1.75"/><circle cx="415.3" cy="212.4" r="1.75"/><circle cx="422.1" cy="212.4" r="1.75"/><circle cx="428.6" cy="212.4" r="1.75"/><circle cx="418.8" cy="212.4" r="1.75"/><circle cx="420.5" cy="212.4" r="1.75"/><circle cx="416.2" cy="212.4" r="1.75"/><circle cx="418.3" cy="212.4" r="1.75"/><circle cx="420.8" cy="212.4" r="1.75"/><circle cx="419.0" cy="212.4" r="1.75"/><circle cx="422.5" cy="212.4" r="1.75"/><circle cx="480.4" cy="212.4" r="1.75"/><circle cx="341.1" cy="219.6" r="1.75"/><circle cx="358.7" cy="219.6" r="1.75"/><circle cx="361.3" cy="219.6" r="1.75"/><circle cx="371.0" cy="219.6" r="1.75"/><circle cx="377.9" cy="219.6" r="1.75"/><circle cx="381.0" cy="219.6" r="1.75"/><circle cx="384.4" cy="219.6" r="1.75"/><circle cx="387.6" cy="219.6" r="1.75"/><circle cx="392.1" cy="219.6" r="1.75"/><circle cx="406.4" cy="219.6" r="1.75"/><circle cx="402.2" cy="219.6" r="1.75"/><circle cx="403.3" cy="219.6" r="1.75"/><circle cx="401.7" cy="219.6" r="1.75"/><circle cx="401.8" cy="219.6" r="1.75"/><circle cx="399.8" cy="219.6" r="1.75"/><circle cx="398.9" cy="219.6" r="1.75"/><circle cx="415.3" cy="219.6" r="1.75"/><circle cx="420.2" cy="219.6" r="1.75"/><circle cx="418.4" cy="219.6" r="1.75"/><circle cx="415.4" cy="219.6" r="1.75"/><circle cx="417.1" cy="219.6" r="1.75"/><circle cx="416.6" cy="219.6" r="1.75"/><circle cx="427.0" cy="219.6" r="1.75"/><circle cx="429.6" cy="219.6" r="1.75"/><circle cx="439.4" cy="219.6" r="1.75"/><circle cx="452.0" cy="219.6" r="1.75"/><circle cx="484.8" cy="219.6" r="1.75"/><circle cx="349.0" cy="226.9" r="1.75"/><circle cx="358.2" cy="226.9" r="1.75"/><circle cx="361.3" cy="226.9" r="1.75"/><circle cx="378.4" cy="226.9" r="1.75"/><circle cx="381.0" cy="226.9" r="1.75"/><circle cx="399.4" cy="226.9" r="1.75"/><circle cx="393.8" cy="226.9" r="1.75"/><circle cx="397.0" cy="226.9" r="1.75"/><circle cx="396.9" cy="226.9" r="1.75"/><circle cx="397.0" cy="226.9" r="1.75"/><circle cx="395.8" cy="226.9" r="1.75"/><circle cx="387.6" cy="226.9" r="1.75"/><circle cx="394.6" cy="226.9" r="1.75"/><circle cx="402.9" cy="226.9" r="1.75"/><circle cx="392.0" cy="226.9" r="1.75"/><circle cx="394.8" cy="226.9" r="1.75"/><circle cx="394.4" cy="226.9" r="1.75"/><circle cx="414.7" cy="226.9" r="1.75"/><circle cx="418.4" cy="226.9" r="1.75"/><circle cx="411.5" cy="226.9" r="1.75"/><circle cx="417.3" cy="226.9" r="1.75"/><circle cx="410.8" cy="226.9" r="1.75"/><circle cx="419.4" cy="226.9" r="1.75"/><circle cx="409.8" cy="226.9" r="1.75"/><circle cx="412.7" cy="226.9" r="1.75"/><circle cx="416.5" cy="226.9" r="1.75"/><circle cx="427.0" cy="226.9" r="1.75"/><circle cx="434.9" cy="226.9" r="1.75"/><circle cx="440.9" cy="226.9" r="1.75"/><circle cx="446.2" cy="226.9" r="1.75"/><circle cx="364.5" cy="234.1" r="1.75"/><circle cx="367.9" cy="234.1" r="1.75"/><circle cx="380.2" cy="234.1" r="1.75"/><circle cx="380.2" cy="234.1" r="1.75"/><circle cx="411.0" cy="234.1" r="1.75"/><circle cx="408.2" cy="234.1" r="1.75"/><circle cx="415.0" cy="234.1" r="1.75"/><circle cx="401.6" cy="234.1" r="1.75"/><circle cx="405.9" cy="234.1" r="1.75"/><circle cx="399.7" cy="234.1" r="1.75"/><circle cx="399.5" cy="234.1" r="1.75"/><circle cx="406.9" cy="234.1" r="1.75"/><circle cx="394.2" cy="234.1" r="1.75"/><circle cx="415.6" cy="234.1" r="1.75"/><circle cx="407.5" cy="234.1" r="1.75"/><circle cx="394.2" cy="234.1" r="1.75"/><circle cx="403.9" cy="234.1" r="1.75"/><circle cx="408.2" cy="234.1" r="1.75"/><circle cx="413.9" cy="234.1" r="1.75"/><circle cx="417.0" cy="234.1" r="1.75"/><circle cx="397.6" cy="234.1" r="1.75"/><circle cx="433.4" cy="234.1" r="1.75"/><circle cx="431.2" cy="234.1" r="1.75"/><circle cx="433.6" cy="234.1" r="1.75"/><circle cx="433.8" cy="234.1" r="1.75"/><circle cx="435.3" cy="234.1" r="1.75"/><circle cx="432.9" cy="234.1" r="1.75"/><circle cx="433.1" cy="234.1" r="1.75"/><circle cx="444.6" cy="234.1" r="1.75"/><circle cx="449.3" cy="234.1" r="1.75"/><circle cx="354.7" cy="241.4" r="1.75"/><circle cx="356.8" cy="241.4" r="1.75"/><circle cx="368.4" cy="241.4" r="1.75"/><circle cx="382.3" cy="241.4" r="1.75"/><circle cx="384.4" cy="241.4" r="1.75"/><circle cx="382.7" cy="241.4" r="1.75"/><circle cx="381.6" cy="241.4" r="1.75"/><circle cx="388.9" cy="241.4" r="1.75"/><circle cx="392.8" cy="241.4" r="1.75"/><circle cx="398.1" cy="241.4" r="1.75"/><circle cx="405.3" cy="241.4" r="1.75"/><circle cx="405.7" cy="241.4" r="1.75"/><circle cx="402.4" cy="241.4" r="1.75"/><circle cx="415.2" cy="241.4" r="1.75"/><circle cx="418.6" cy="241.4" r="1.75"/><circle cx="421.8" cy="241.4" r="1.75"/><circle cx="429.6" cy="241.4" r="1.75"/><circle cx="440.1" cy="241.4" r="1.75"/><circle cx="464.3" cy="241.4" r="1.75"/><circle cx="359.2" cy="248.6" r="1.75"/><circle cx="366.0" cy="248.6" r="1.75"/><circle cx="385.0" cy="248.6" r="1.75"/><circle cx="385.0" cy="248.6" r="1.75"/><circle cx="397.7" cy="248.6" r="1.75"/><circle cx="395.8" cy="248.6" r="1.75"/><circle cx="398.7" cy="248.6" r="1.75"/><circle cx="392.4" cy="248.6" r="1.75"/><circle cx="395.0" cy="248.6" r="1.75"/><circle cx="402.8" cy="248.6" r="1.75"/><circle cx="407.3" cy="248.6" r="1.75"/><circle cx="410.7" cy="248.6" r="1.75"/><circle cx="417.2" cy="248.6" r="1.75"/><circle cx="420.2" cy="248.6" r="1.75"/><circle cx="427.0" cy="248.6" r="1.75"/><circle cx="426.0" cy="248.6" r="1.75"/><circle cx="425.4" cy="248.6" r="1.75"/><circle cx="416.9" cy="248.6" r="1.75"/><circle cx="423.1" cy="248.6" r="1.75"/><circle cx="421.8" cy="248.6" r="1.75"/><circle cx="420.6" cy="248.6" r="1.75"/><circle cx="367.1" cy="255.9" r="1.75"/><circle cx="368.7" cy="255.9" r="1.75"/><circle cx="373.4" cy="255.9" r="1.75"/><circle cx="390.2" cy="255.9" r="1.75"/><circle cx="402.0" cy="255.9" r="1.75"/><circle cx="405.3" cy="255.9" r="1.75"/><circle cx="406.4" cy="255.9" r="1.75"/><circle cx="404.1" cy="255.9" r="1.75"/><circle cx="399.6" cy="255.9" r="1.75"/><circle cx="403.9" cy="255.9" r="1.75"/><circle cx="401.2" cy="255.9" r="1.75"/><circle cx="402.2" cy="255.9" r="1.75"/><circle cx="410.7" cy="255.9" r="1.75"/><circle cx="420.4" cy="255.9" r="1.75"/><circle cx="420.4" cy="255.9" r="1.75"/><circle cx="432.3" cy="255.9" r="1.75"/><circle cx="442.8" cy="255.9" r="1.75"/><circle cx="459.6" cy="255.9" r="1.75"/><circle cx="479.6" cy="255.9" r="1.75"/><circle cx="352.1" cy="263.1" r="1.75"/><circle cx="380.2" cy="263.1" r="1.75"/><circle cx="385.5" cy="263.1" r="1.75"/><circle cx="390.2" cy="263.1" r="1.75"/><circle cx="402.8" cy="263.1" r="1.75"/><circle cx="412.6" cy="263.1" r="1.75"/><circle cx="418.3" cy="263.1" r="1.75"/><circle cx="438.8" cy="263.1" r="1.75"/><circle cx="366.6" cy="270.4" r="1.75"/><circle cx="394.2" cy="277.6" r="1.75"/><circle cx="372.6" cy="306.6" r="1.75"/><circle cx="387.6" cy="306.6" r="1.75"/><circle cx="392.8" cy="306.6" r="1.75"/><circle cx="407.3" cy="306.6" r="1.75"/><circle cx="414.7" cy="306.6" r="1.75"/></g>
<line x1="313.5" y1="183.7" x2="523.5" y2="183.7" stroke="#444" stroke-width="1"/>
<rect x="579.5" y="119.8" width="217.2" height="192.6" fill="#efefef"/>
<line x1="579.5" y1="119.8" x2="796.7" y2="119.8" stroke="#999" stroke-width="1.3"/>
<line x1="796.7" y1="119.8" x2="796.7" y2="312.4" stroke="#888" stroke-width="1"/>
<line x1="579.5" y1="312.4" x2="796.7" y2="312.4" stroke="#777" stroke-width="1"/>
<line x1="579.5" y1="119.8" x2="579.5" y2="312.9" stroke="#555" stroke-width="1"/>
<line x1="576" y1="125.5" x2="579.5" y2="125.5" stroke="#555" stroke-width="1"/>
<text x="575.9" y="130.55" font-size="10" text-anchor="end" fill="#1a1a1a">25</text>
<line x1="576" y1="161.5" x2="579.5" y2="161.5" stroke="#555" stroke-width="1"/>
<text x="575.9" y="166.8" font-size="10" text-anchor="end" fill="#1a1a1a">20</text>
<line x1="576" y1="197.5" x2="579.5" y2="197.5" stroke="#555" stroke-width="1"/>
<text x="575.9" y="203.05" font-size="10" text-anchor="end" fill="#1a1a1a">15</text>
<line x1="576" y1="234.5" x2="579.5" y2="234.5" stroke="#555" stroke-width="1"/>
<text x="575.9" y="239.3" font-size="10" text-anchor="end" fill="#1a1a1a">10</text>
<line x1="576" y1="270.5" x2="579.5" y2="270.5" stroke="#555" stroke-width="1"/>
<text x="575.9" y="275.55" font-size="10" text-anchor="end" fill="#1a1a1a">5</text>
<line x1="576" y1="306.5" x2="579.5" y2="306.5" stroke="#555" stroke-width="1"/>
<text x="575.9" y="311.8" font-size="10" text-anchor="end" fill="#1a1a1a">0</text>
<line x1="606.5" y1="312.4" x2="606.5" y2="315.9" stroke="#555" stroke-width="1"/>
<text x="606.1" y="326.6" font-size="10" text-anchor="middle" fill="#1a1a1a">-500</text>
<line x1="646.5" y1="312.4" x2="646.5" y2="315.9" stroke="#555" stroke-width="1"/>
<text x="646.5" y="326.6" font-size="10" text-anchor="middle" fill="#1a1a1a">-250</text>
<line x1="687.5" y1="312.4" x2="687.5" y2="315.9" stroke="#555" stroke-width="1"/>
<text x="687.2" y="326.6" font-size="10" text-anchor="middle" fill="#1a1a1a">0</text>
<line x1="728.5" y1="312.4" x2="728.5" y2="315.9" stroke="#555" stroke-width="1"/>
<text x="727.9" y="326.6" font-size="10" text-anchor="middle" fill="#1a1a1a">250</text>
<line x1="769.5" y1="312.4" x2="769.5" y2="315.9" stroke="#555" stroke-width="1"/>
<text x="768.9" y="326.6" font-size="10" text-anchor="middle" fill="#1a1a1a">500</text>
<g fill="none" stroke="#151515" stroke-width="0.75"><circle cx="660.9" cy="132.6" r="1.75"/><circle cx="691.4" cy="132.6" r="1.75"/><circle cx="702.2" cy="132.6" r="1.75"/><circle cx="702.2" cy="132.6" r="1.75"/><circle cx="708.2" cy="132.6" r="1.75"/><circle cx="708.2" cy="132.6" r="1.75"/><circle cx="716.1" cy="132.6" r="1.75"/><circle cx="725.4" cy="132.6" r="1.75"/><circle cx="721.5" cy="132.6" r="1.75"/><circle cx="721.8" cy="132.6" r="1.75"/><circle cx="722.3" cy="132.6" r="1.75"/><circle cx="716.8" cy="132.6" r="1.75"/><circle cx="717.5" cy="132.6" r="1.75"/><circle cx="720.3" cy="132.6" r="1.75"/><circle cx="715.3" cy="132.6" r="1.75"/><circle cx="718.4" cy="132.6" r="1.75"/><circle cx="720.9" cy="132.6" r="1.75"/><circle cx="720.7" cy="132.6" r="1.75"/><circle cx="722.3" cy="132.6" r="1.75"/><circle cx="721.5" cy="132.6" r="1.75"/><circle cx="719.0" cy="132.6" r="1.75"/><circle cx="740.2" cy="132.6" r="1.75"/><circle cx="743.7" cy="132.6" r="1.75"/><circle cx="741.4" cy="132.6" r="1.75"/><circle cx="746.0" cy="132.6" r="1.75"/><circle cx="742.9" cy="132.6" r="1.75"/><circle cx="741.3" cy="132.6" r="1.75"/><circle cx="743.2" cy="132.6" r="1.75"/><circle cx="741.2" cy="132.6" r="1.75"/><circle cx="740.5" cy="132.6" r="1.75"/><circle cx="740.8" cy="132.6" r="1.75"/><circle cx="757.1" cy="132.6" r="1.75"/><circle cx="768.8" cy="132.6" r="1.75"/><circle cx="699.5" cy="139.9" r="1.75"/><circle cx="730.5" cy="139.9" r="1.75"/><circle cx="739.5" cy="139.9" r="1.75"/><circle cx="733.9" cy="139.9" r="1.75"/><circle cx="721.8" cy="139.9" r="1.75"/><circle cx="712.6" cy="139.9" r="1.75"/><circle cx="719.4" cy="139.9" r="1.75"/><circle cx="726.6" cy="139.9" r="1.75"/><circle cx="726.1" cy="139.9" r="1.75"/><circle cx="726.8" cy="139.9" r="1.75"/><circle cx="719.1" cy="139.9" r="1.75"/><circle cx="726.9" cy="139.9" r="1.75"/><circle cx="717.0" cy="139.9" r="1.75"/><circle cx="726.1" cy="139.9" r="1.75"/><circle cx="730.3" cy="139.9" r="1.75"/><circle cx="739.4" cy="139.9" r="1.75"/><circle cx="719.9" cy="139.9" r="1.75"/><circle cx="713.9" cy="139.9" r="1.75"/><circle cx="720.1" cy="139.9" r="1.75"/><circle cx="710.1" cy="139.9" r="1.75"/><circle cx="713.0" cy="139.9" r="1.75"/><circle cx="740.7" cy="139.9" r="1.75"/><circle cx="728.2" cy="139.9" r="1.75"/><circle cx="733.5" cy="139.9" r="1.75"/><circle cx="730.4" cy="139.9" r="1.75"/><circle cx="727.9" cy="139.9" r="1.75"/><circle cx="721.0" cy="139.9" r="1.75"/><circle cx="714.3" cy="139.9" r="1.75"/><circle cx="730.9" cy="139.9" r="1.75"/><circle cx="735.3" cy="139.9" r="1.75"/><circle cx="735.2" cy="139.9" r="1.75"/><circle cx="730.5" cy="139.9" r="1.75"/><circle cx="735.2" cy="139.9" r="1.75"/><circle cx="726.4" cy="139.9" r="1.75"/><circle cx="732.0" cy="139.9" r="1.75"/><circle cx="740.4" cy="139.9" r="1.75"/><circle cx="724.9" cy="139.9" r="1.75"/><circle cx="712.2" cy="139.9" r="1.75"/><circle cx="713.6" cy="139.9" r="1.75"/><circle cx="738.2" cy="139.9" r="1.75"/><circle cx="725.1" cy="139.9" r="1.75"/><circle cx="732.0" cy="139.9" r="1.75"/><circle cx="727.5" cy="139.9" r="1.75"/><circle cx="728.9" cy="139.9" r="1.75"/><circle cx="722.1" cy="139.9" r="1.75"/><circle cx="719.6" cy="139.9" r="1.75"/><circle cx="705.5" cy="139.9" r="1.75"/><circle cx="746.2" cy="139.9" r="1.75"/><circle cx="753.8" cy="139.9" r="1.75"/><circle cx="757.9" cy="139.9" r="1.75"/><circle cx="763.9" cy="139.9" r="1.75"/><circle cx="763.9" cy="139.9" r="1.75"/><circle cx="666.9" cy="147.1" r="1.75"/><circle cx="689.2" cy="147.1" r="1.75"/><circle cx="689.2" cy="147.1" r="1.75"/><circle cx="696.2" cy="147.1" r="1.75"/><circle cx="742.5" cy="147.1" r="1.75"/><circle cx="731.5" cy="147.1" r="1.75"/><circle cx="717.3" cy="147.1" r="1.75"/><circle cx="718.2" cy="147.1" r="1.75"/><circle cx="723.6" cy="147.1" r="1.75"/><circle cx="713.9" cy="147.1" r="1.75"/><circle cx="728.7" cy="147.1" r="1.75"/><circle cx="720.8" cy="147.1" r="1.75"/><circle cx="743.1" cy="147.1" r="1.75"/><circle cx="713.9" cy="147.1" r="1.75"/><circle cx="715.0" cy="147.1" r="1.75"/><circle cx="739.3" cy="147.1" r="1.75"/><circle cx="726.0" cy="147.1" r="1.75"/><circle cx="739.1" cy="147.1" r="1.75"/><circle cx="743.5" cy="147.1" r="1.75"/><circle cx="727.4" cy="147.1" r="1.75"/><circle cx="708.8" cy="147.1" r="1.75"/><circle cx="733.0" cy="147.1" r="1.75"/><circle cx="718.2" cy="147.1" r="1.75"/><circle cx="728.8" cy="147.1" r="1.75"/><circle cx="723.1" cy="147.1" r="1.75"/><circle cx="740.8" cy="147.1" r="1.75"/><circle cx="732.5" cy="147.1" r="1.75"/><circle cx="750.2" cy="147.1" r="1.75"/><circle cx="734.5" cy="147.1" r="1.75"/><circle cx="723.3" cy="147.1" r="1.75"/><circle cx="736.7" cy="147.1" r="1.75"/><circle cx="751.2" cy="147.1" r="1.75"/><circle cx="743.7" cy="147.1" r="1.75"/><circle cx="726.1" cy="147.1" r="1.75"/><circle cx="742.4" cy="147.1" r="1.75"/><circle cx="709.0" cy="147.1" r="1.75"/><circle cx="750.0" cy="147.1" r="1.75"/><circle cx="718.9" cy="147.1" r="1.75"/><circle cx="711.1" cy="147.1" r="1.75"/><circle cx="723.9" cy="147.1" r="1.75"/><circle cx="721.6" cy="147.1" r="1.75"/><circle cx="751.3" cy="147.1" r="1.75"/><circle cx="738.7" cy="147.1" r="1.75"/><circle cx="750.5" cy="147.1" r="1.75"/><circle cx="725.1" cy="147.1" r="1.75"/><circle cx="730.0" cy="147.1" r="1.75"/><circle cx="729.7" cy="147.1" r="1.75"/><circle cx="726.8" cy="147.1" r="1.75"/><circle cx="723.3" cy="147.1" r="1.75"/><circle cx="716.0" cy="147.1" r="1.75"/><circle cx="715.3" cy="147.1" r="1.75"/><circle cx="750.7" cy="147.1" r="1.75"/><circle cx="712.6" cy="147.1" r="1.75"/><circle cx="713.2" cy="147.1" r="1.75"/><circle cx="705.2" cy="147.1" r="1.75"/><circle cx="720.4" cy="147.1" r="1.75"/><circle cx="750.5" cy="147.1" r="1.75"/><circle cx="710.3" cy="147.1" r="1.75"/><circle cx="733.6" cy="147.1" r="1.75"/><circle cx="728.5" cy="147.1" r="1.75"/><circle cx="739.6" cy="147.1" r="1.75"/><circle cx="729.1" cy="147.1" r="1.75"/><circle cx="726.7" cy="147.1" r="1.75"/><circle cx="748.1" cy="147.1" r="1.75"/><circle cx="723.8" cy="147.1" r="1.75"/><circle cx="740.4" cy="147.1" r="1.75"/><circle cx="743.3" cy="147.1" r="1.75"/><circle cx="733.8" cy="147.1" r="1.75"/><circle cx="712.4" cy="147.1" r="1.75"/><circle cx="728.6" cy="147.1" r="1.75"/><circle cx="769.6" cy="147.1" r="1.75"/><circle cx="769.6" cy="147.1" r="1.75"/><circle cx="625.4" cy="154.4" r="1.75"/><circle cx="687.3" cy="154.4" r="1.75"/><circle cx="723.9" cy="154.4" r="1.75"/><circle cx="703.8" cy="154.4" r="1.75"/><circle cx="739.2" cy="154.4" r="1.75"/><circle cx="726.3" cy="154.4" r="1.75"/><circle cx="723.7" cy="154.4" r="1.75"/><circle cx="739.5" cy="154.4" r="1.75"/><circle cx="702.5" cy="154.4" r="1.75"/><circle cx="722.8" cy="154.4" r="1.75"/><circle cx="722.3" cy="154.4" r="1.75"/><circle cx="695.3" cy="154.4" r="1.75"/><circle cx="721.4" cy="154.4" r="1.75"/><circle cx="728.6" cy="154.4" r="1.75"/><circle cx="725.6" cy="154.4" r="1.75"/><circle cx="741.8" cy="154.4" r="1.75"/><circle cx="720.9" cy="154.4" r="1.75"/><circle cx="728.8" cy="154.4" r="1.75"/><circle cx="740.4" cy="154.4" r="1.75"/><circle cx="737.0" cy="154.4" r="1.75"/><circle cx="733.4" cy="154.4" r="1.75"/><circle cx="717.9" cy="154.4" r="1.75"/><circle cx="727.4" cy="154.4" r="1.75"/><circle cx="705.9" cy="154.4" r="1.75"/><circle cx="697.0" cy="154.4" r="1.75"/><circle cx="744.4" cy="154.4" r="1.75"/><circle cx="733.1" cy="154.4" r="1.75"/><circle cx="741.5" cy="154.4" r="1.75"/><circle cx="691.6" cy="154.4" r="1.75"/><circle cx="703.7" cy="154.4" r="1.75"/><circle cx="718.0" cy="154.4" r="1.75"/><circle cx="716.7" cy="154.4" r="1.75"/><circle cx="701.4" cy="154.4" r="1.75"/><circle cx="711.4" cy="154.4" r="1.75"/><circle cx="721.6" cy="154.4" r="1.75"/><circle cx="741.5" cy="154.4" r="1.75"/><circle cx="708.3" cy="154.4" r="1.75"/><circle cx="707.3" cy="154.4" r="1.75"/><circle cx="695.1" cy="154.4" r="1.75"/><circle cx="730.5" cy="154.4" r="1.75"/><circle cx="721.9" cy="154.4" r="1.75"/><circle cx="724.0" cy="154.4" r="1.75"/><circle cx="744.1" cy="154.4" r="1.75"/><circle cx="750.3" cy="154.4" r="1.75"/><circle cx="719.9" cy="154.4" r="1.75"/><circle cx="718.5" cy="154.4" r="1.75"/><circle cx="726.1" cy="154.4" r="1.75"/><circle cx="702.7" cy="154.4" r="1.75"/><circle cx="708.2" cy="154.4" r="1.75"/><circle cx="735.3" cy="154.4" r="1.75"/><circle cx="710.4" cy="154.4" r="1.75"/><circle cx="705.2" cy="154.4" r="1.75"/><circle cx="741.4" cy="154.4" r="1.75"/><circle cx="747.2" cy="154.4" r="1.75"/><circle cx="714.7" cy="154.4" r="1.75"/><circle cx="692.1" cy="154.4" r="1.75"/><circle cx="731.7" cy="154.4" r="1.75"/><circle cx="712.6" cy="154.4" r="1.75"/><circle cx="729.1" cy="154.4" r="1.75"/><circle cx="701.8" cy="154.4" r="1.75"/><circle cx="712.6" cy="154.4" r="1.75"/><circle cx="729.0" cy="154.4" r="1.75"/><circle cx="697.7" cy="154.4" r="1.75"/><circle cx="737.8" cy="154.4" r="1.75"/><circle cx="750.5" cy="154.4" r="1.75"/><circle cx="729.3" cy="154.4" r="1.75"/><circle cx="698.4" cy="154.4" r="1.75"/><circle cx="712.8" cy="154.4" r="1.75"/><circle cx="692.6" cy="154.4" r="1.75"/><circle cx="740.8" cy="154.4" r="1.75"/><circle cx="726.3" cy="154.4" r="1.75"/><circle cx="739.9" cy="154.4" r="1.75"/><circle cx="695.7" cy="154.4" r="1.75"/><circle cx="726.3" cy="154.4" r="1.75"/><circle cx="691.9" cy="154.4" r="1.75"/><circle cx="728.7" cy="154.4" r="1.75"/><circle cx="744.5" cy="154.4" r="1.75"/><circle cx="756.5" cy="154.4" r="1.75"/><circle cx="759.8" cy="154.4" r="1.75"/><circle cx="768.8" cy="154.4" r="1.75"/><circle cx="774.2" cy="154.4" r="1.75"/><circle cx="774.2" cy="154.4" r="1.75"/><circle cx="656.0" cy="161.6" r="1.75"/><circle cx="685.9" cy="161.6" r="1.75"/><circle cx="685.9" cy="161.6" r="1.75"/><circle cx="702.6" cy="161.6" r="1.75"/><circle cx="733.7" cy="161.6" r="1.75"/><circle cx="704.3" cy="161.6" r="1.75"/><circle cx="705.5" cy="161.6" r="1.75"/><circle cx="700.4" cy="161.6" r="1.75"/><circle cx="727.4" cy="161.6" r="1.75"/><circle cx="726.6" cy="161.6" r="1.75"/><circle cx="736.2" cy="161.6" r="1.75"/><circle cx="720.0" cy="161.6" r="1.75"/><circle cx="732.9" cy="161.6" r="1.75"/><circle cx="718.4" cy="161.6" r="1.75"/><circle cx="709.6" cy="161.6" r="1.75"/><circle cx="711.1" cy="161.6" r="1.75"/><circle cx="753.0" cy="161.6" r="1.75"/><circle cx="715.0" cy="161.6" r="1.75"/><circle cx="736.5" cy="161.6" r="1.75"/><circle cx="694.2" cy="161.6" r="1.75"/><circle cx="716.8" cy="161.6" r="1.75"/><circle cx="705.3" cy="161.6" r="1.75"/><circle cx="718.4" cy="161.6" r="1.75"/><circle cx="739.7" cy="161.6" r="1.75"/><circle cx="699.8" cy="161.6" r="1.75"/><circle cx="738.3" cy="161.6" r="1.75"/><circle cx="752.1" cy="161.6" r="1.75"/><circle cx="721.7" cy="161.6" r="1.75"/><circle cx="722.7" cy="161.6" r="1.75"/><circle cx="740.2" cy="161.6" r="1.75"/><circle cx="719.3" cy="161.6" r="1.75"/><circle cx="733.9" cy="161.6" r="1.75"/><circle cx="728.7" cy="161.6" r="1.75"/><circle cx="694.2" cy="161.6" r="1.75"/><circle cx="711.9" cy="161.6" r="1.75"/><circle cx="737.5" cy="161.6" r="1.75"/><circle cx="742.9" cy="161.6" r="1.75"/><circle cx="708.5" cy="161.6" r="1.75"/><circle cx="710.3" cy="161.6" r="1.75"/><circle cx="752.3" cy="161.6" r="1.75"/><circle cx="704.2" cy="161.6" r="1.75"/><circle cx="744.2" cy="161.6" r="1.75"/><circle cx="713.5" cy="161.6" r="1.75"/><circle cx="738.7" cy="161.6" r="1.75"/><circle cx="728.7" cy="161.6" r="1.75"/><circle cx="714.7" cy="161.6" r="1.75"/><circle cx="697.2" cy="161.6" r="1.75"/><circle cx="725.7" cy="161.6" r="1.75"/><circle cx="716.0" cy="161.6" r="1.75"/><circle cx="739.9" cy="161.6" r="1.75"/><circle cx="744.5" cy="161.6" r="1.75"/><circle cx="713.8" cy="161.6" r="1.75"/><circle cx="730.9" cy="161.6" r="1.75"/><circle cx="725.8" cy="161.6" r="1.75"/><circle cx="735.1" cy="161.6" r="1.75"/><circle cx="709.2" cy="161.6" r="1.75"/><circle cx="710.7" cy="161.6" r="1.75"/><circle cx="718.3" cy="161.6" r="1.75"/><circle cx="740.6" cy="161.6" r="1.75"/><circle cx="748.4" cy="161.6" r="1.75"/><circle cx="706.7" cy="161.6" r="1.75"/><circle cx="691.3" cy="161.6" r="1.75"/><circle cx="746.6" cy="161.6" r="1.75"/><circle cx="725.1" cy="161.6" r="1.75"/><circle cx="743.7" cy="161.6" r="1.75"/><circle cx="719.7" cy="161.6" r="1.75"/><circle cx="730.0" cy="161.6" r="1.75"/><circle cx="724.3" cy="161.6" r="1.75"/><circle cx="712.1" cy="161.6" r="1.75"/><circle cx="737.1" cy="161.6" r="1.75"/><circle cx="748.3" cy="161.6" r="1.75"/><circle cx="723.7" cy="161.6" r="1.75"/><circle cx="708.3" cy="161.6" r="1.75"/><circle cx="698.7" cy="161.6" r="1.75"/><circle cx="727.2" cy="161.6" r="1.75"/><circle cx="733.8" cy="161.6" r="1.75"/><circle cx="737.8" cy="161.6" r="1.75"/><circle cx="706.4" cy="161.6" r="1.75"/><circle cx="734.1" cy="161.6" r="1.75"/><circle cx="706.6" cy="161.6" r="1.75"/><circle cx="729.4" cy="161.6" r="1.75"/><circle cx="731.2" cy="161.6" r="1.75"/><circle cx="694.1" cy="161.6" r="1.75"/><circle cx="759.3" cy="161.6" r="1.75"/><circle cx="773.4" cy="161.6" r="1.75"/><circle cx="651.4" cy="168.9" r="1.75"/><circle cx="683.7" cy="168.9" r="1.75"/><circle cx="688.6" cy="168.9" r="1.75"/><circle cx="691.5" cy="168.9" r="1.75"/><circle cx="692.7" cy="168.9" r="1.75"/><circle cx="696.0" cy="168.9" r="1.75"/><circle cx="695.9" cy="168.9" r="1.75"/><circle cx="692.7" cy="168.9" r="1.75"/><circle cx="695.2" cy="168.9" r="1.75"/><circle cx="696.9" cy="168.9" r="1.75"/><circle cx="700.2" cy="168.9" r="1.75"/><circle cx="699.3" cy="168.9" r="1.75"/><circle cx="699.2" cy="168.9" r="1.75"/><circle cx="699.5" cy="168.9" r="1.75"/><circle cx="695.9" cy="168.9" r="1.75"/><circle cx="713.7" cy="168.9" r="1.75"/><circle cx="723.8" cy="168.9" r="1.75"/><circle cx="724.4" cy="168.9" r="1.75"/><circle cx="709.4" cy="168.9" r="1.75"/><circle cx="728.8" cy="168.9" r="1.75"/><circle cx="711.6" cy="168.9" r="1.75"/><circle cx="744.3" cy="168.9" r="1.75"/><circle cx="749.4" cy="168.9" r="1.75"/><circle cx="738.3" cy="168.9" r="1.75"/><circle cx="741.3" cy="168.9" r="1.75"/><circle cx="721.8" cy="168.9" r="1.75"/><circle cx="713.2" cy="168.9" r="1.75"/><circle cx="720.3" cy="168.9" r="1.75"/><circle cx="714.6" cy="168.9" r="1.75"/><circle cx="722.7" cy="168.9" r="1.75"/><circle cx="734.5" cy="168.9" r="1.75"/><circle cx="745.1" cy="168.9" r="1.75"/><circle cx="735.6" cy="168.9" r="1.75"/><circle cx="711.0" cy="168.9" r="1.75"/><circle cx="710.3" cy="168.9" r="1.75"/><circle cx="737.8" cy="168.9" r="1.75"/><circle cx="710.4" cy="168.9" r="1.75"/><circle cx="713.0" cy="168.9" r="1.75"/><circle cx="725.3" cy="168.9" r="1.75"/><circle cx="708.1" cy="168.9" r="1.75"/><circle cx="726.6" cy="168.9" r="1.75"/><circle cx="719.4" cy="168.9" r="1.75"/><circle cx="739.3" cy="168.9" r="1.75"/><circle cx="747.2" cy="168.9" r="1.75"/><circle cx="729.3" cy="168.9" r="1.75"/><circle cx="714.4" cy="168.9" r="1.75"/><circle cx="711.8" cy="168.9" r="1.75"/><circle cx="747.6" cy="168.9" r="1.75"/><circle cx="738.7" cy="168.9" r="1.75"/><circle cx="725.8" cy="168.9" r="1.75"/><circle cx="714.4" cy="168.9" r="1.75"/><circle cx="716.0" cy="168.9" r="1.75"/><circle cx="720.2" cy="168.9" r="1.75"/><circle cx="735.1" cy="168.9" r="1.75"/><circle cx="716.4" cy="168.9" r="1.75"/><circle cx="722.7" cy="168.9" r="1.75"/><circle cx="732.9" cy="168.9" r="1.75"/><circle cx="726.8" cy="168.9" r="1.75"/><circle cx="741.8" cy="168.9" r="1.75"/><circle cx="746.6" cy="168.9" r="1.75"/><circle cx="715.4" cy="168.9" r="1.75"/><circle cx="727.6" cy="168.9" r="1.75"/><circle cx="706.6" cy="168.9" r="1.75"/><circle cx="711.4" cy="168.9" r="1.75"/><circle cx="739.5" cy="168.9" r="1.75"/><circle cx="735.9" cy="168.9" r="1.75"/><circle cx="727.1" cy="168.9" r="1.75"/><circle cx="727.0" cy="168.9" r="1.75"/><circle cx="738.2" cy="168.9" r="1.75"/><circle cx="724.3" cy="168.9" r="1.75"/><circle cx="732.7" cy="168.9" r="1.75"/><circle cx="715.4" cy="168.9" r="1.75"/><circle cx="721.8" cy="168.9" r="1.75"/><circle cx="756.0" cy="168.9" r="1.75"/><circle cx="756.0" cy="168.9" r="1.75"/><circle cx="652.8" cy="176.1" r="1.75"/><circle cx="668.8" cy="176.1" r="1.75"/><circle cx="685.9" cy="176.1" r="1.75"/><circle cx="688.6" cy="176.1" r="1.75"/><circle cx="690.8" cy="176.1" r="1.75"/><circle cx="724.2" cy="176.1" r="1.75"/><circle cx="712.4" cy="176.1" r="1.75"/><circle cx="730.6" cy="176.1" r="1.75"/><circle cx="721.7" cy="176.1" r="1.75"/><circle cx="715.6" cy="176.1" r="1.75"/><circle cx="714.4" cy="176.1" r="1.75"/><circle cx="702.2" cy="176.1" r="1.75"/><circle cx="703.1" cy="176.1" r="1.75"/><circle cx="726.8" cy="176.1" r="1.75"/><circle cx="706.7" cy="176.1" r="1.75"/><circle cx="720.9" cy="176.1" r="1.75"/><circle cx="713.8" cy="176.1" r="1.75"/><circle cx="727.9" cy="176.1" r="1.75"/><circle cx="721.7" cy="176.1" r="1.75"/><circle cx="699.4" cy="176.1" r="1.75"/><circle cx="699.8" cy="176.1" r="1.75"/><circle cx="708.9" cy="176.1" r="1.75"/><circle cx="723.3" cy="176.1" r="1.75"/><circle cx="730.6" cy="176.1" r="1.75"/><circle cx="710.0" cy="176.1" r="1.75"/><circle cx="723.8" cy="176.1" r="1.75"/><circle cx="731.5" cy="176.1" r="1.75"/><circle cx="702.7" cy="176.1" r="1.75"/><circle cx="712.4" cy="176.1" r="1.75"/><circle cx="707.2" cy="176.1" r="1.75"/><circle cx="718.4" cy="176.1" r="1.75"/><circle cx="713.7" cy="176.1" r="1.75"/><circle cx="720.3" cy="176.1" r="1.75"/><circle cx="707.1" cy="176.1" r="1.75"/><circle cx="724.6" cy="176.1" r="1.75"/><circle cx="735.9" cy="176.1" r="1.75"/><circle cx="710.7" cy="176.1" r="1.75"/><circle cx="709.7" cy="176.1" r="1.75"/><circle cx="720.1" cy="176.1" r="1.75"/><circle cx="717.9" cy="176.1" r="1.75"/><circle cx="704.4" cy="176.1" r="1.75"/><circle cx="708.0" cy="176.1" r="1.75"/><circle cx="702.8" cy="176.1" r="1.75"/><circle cx="714.2" cy="176.1" r="1.75"/><circle cx="720.7" cy="176.1" r="1.75"/><circle cx="716.1" cy="176.1" r="1.75"/><circle cx="709.6" cy="176.1" r="1.75"/><circle cx="698.0" cy="176.1" r="1.75"/><circle cx="708.0" cy="176.1" r="1.75"/><circle cx="729.5" cy="176.1" r="1.75"/><circle cx="724.2" cy="176.1" r="1.75"/><circle cx="716.7" cy="176.1" r="1.75"/><circle cx="707.6" cy="176.1" r="1.75"/><circle cx="726.5" cy="176.1" r="1.75"/><circle cx="713.1" cy="176.1" r="1.75"/><circle cx="746.0" cy="176.1" r="1.75"/><circle cx="743.0" cy="176.1" r="1.75"/><circle cx="743.0" cy="176.1" r="1.75"/><circle cx="742.5" cy="176.1" r="1.75"/><circle cx="747.4" cy="176.1" r="1.75"/><circle cx="742.1" cy="176.1" r="1.75"/><circle cx="746.2" cy="176.1" r="1.75"/><circle cx="745.9" cy="176.1" r="1.75"/><circle cx="745.0" cy="176.1" r="1.75"/><circle cx="743.7" cy="176.1" r="1.75"/><circle cx="756.0" cy="176.1" r="1.75"/><circle cx="770.1" cy="176.1" r="1.75"/><circle cx="770.1" cy="176.1" r="1.75"/><circle cx="683.7" cy="183.4" r="1.75"/><circle cx="683.7" cy="183.4" r="1.75"/><circle cx="688.6" cy="183.4" r="1.75"/><circle cx="692.3" cy="183.4" r="1.75"/><circle cx="692.3" cy="183.4" r="1.75"/><circle cx="696.6" cy="183.4" r="1.75"/><circle cx="697.2" cy="183.4" r="1.75"/><circle cx="693.4" cy="183.4" r="1.75"/><circle cx="694.7" cy="183.4" r="1.75"/><circle cx="698.9" cy="183.4" r="1.75"/><circle cx="699.1" cy="183.4" r="1.75"/><circle cx="700.0" cy="183.4" r="1.75"/><circle cx="716.0" cy="183.4" r="1.75"/><circle cx="724.9" cy="183.4" r="1.75"/><circle cx="720.1" cy="183.4" r="1.75"/><circle cx="723.9" cy="183.4" r="1.75"/><circle cx="711.7" cy="183.4" r="1.75"/><circle cx="716.7" cy="183.4" r="1.75"/><circle cx="714.0" cy="183.4" r="1.75"/><circle cx="720.7" cy="183.4" r="1.75"/><circle cx="716.9" cy="183.4" r="1.75"/><circle cx="714.8" cy="183.4" r="1.75"/><circle cx="723.6" cy="183.4" r="1.75"/><circle cx="714.0" cy="183.4" r="1.75"/><circle cx="712.8" cy="183.4" r="1.75"/><circle cx="726.5" cy="183.4" r="1.75"/><circle cx="728.1" cy="183.4" r="1.75"/><circle cx="715.3" cy="183.4" r="1.75"/><circle cx="715.8" cy="183.4" r="1.75"/><circle cx="708.8" cy="183.4" r="1.75"/><circle cx="720.9" cy="183.4" r="1.75"/><circle cx="715.7" cy="183.4" r="1.75"/><circle cx="720.0" cy="183.4" r="1.75"/><circle cx="739.8" cy="183.4" r="1.75"/><circle cx="739.2" cy="183.4" r="1.75"/><circle cx="738.8" cy="183.4" r="1.75"/><circle cx="737.9" cy="183.4" r="1.75"/><circle cx="738.0" cy="183.4" r="1.75"/><circle cx="741.0" cy="183.4" r="1.75"/><circle cx="751.9" cy="183.4" r="1.75"/><circle cx="777.7" cy="183.4" r="1.75"/><circle cx="661.5" cy="190.6" r="1.75"/><circle cx="667.7" cy="190.6" r="1.75"/><circle cx="673.7" cy="190.6" r="1.75"/><circle cx="677.0" cy="190.6" r="1.75"/><circle cx="687.3" cy="190.6" r="1.75"/><circle cx="703.6" cy="190.6" r="1.75"/><circle cx="714.5" cy="190.6" r="1.75"/><circle cx="705.0" cy="190.6" r="1.75"/><circle cx="696.1" cy="190.6" r="1.75"/><circle cx="706.9" cy="190.6" r="1.75"/><circle cx="709.9" cy="190.6" r="1.75"/><circle cx="693.4" cy="190.6" r="1.75"/><circle cx="709.4" cy="190.6" r="1.75"/><circle cx="703.1" cy="190.6" r="1.75"/><circle cx="720.1" cy="190.6" r="1.75"/><circle cx="700.0" cy="190.6" r="1.75"/><circle cx="695.0" cy="190.6" r="1.75"/><circle cx="696.3" cy="190.6" r="1.75"/><circle cx="706.3" cy="190.6" r="1.75"/><circle cx="714.2" cy="190.6" r="1.75"/><circle cx="701.5" cy="190.6" r="1.75"/><circle cx="698.6" cy="190.6" r="1.75"/><circle cx="697.0" cy="190.6" r="1.75"/><circle cx="718.2" cy="190.6" r="1.75"/><circle cx="719.9" cy="190.6" r="1.75"/><circle cx="702.6" cy="190.6" r="1.75"/><circle cx="704.3" cy="190.6" r="1.75"/><circle cx="720.0" cy="190.6" r="1.75"/><circle cx="715.7" cy="190.6" r="1.75"/><circle cx="698.8" cy="190.6" r="1.75"/><circle cx="740.6" cy="190.6" r="1.75"/><circle cx="741.6" cy="190.6" r="1.75"/><circle cx="730.9" cy="190.6" r="1.75"/><circle cx="733.9" cy="190.6" r="1.75"/><circle cx="752.1" cy="190.6" r="1.75"/><circle cx="734.8" cy="190.6" r="1.75"/><circle cx="749.8" cy="190.6" r="1.75"/><circle cx="744.5" cy="190.6" r="1.75"/><circle cx="735.6" cy="190.6" r="1.75"/><circle cx="736.8" cy="190.6" r="1.75"/><circle cx="728.9" cy="190.6" r="1.75"/><circle cx="754.9" cy="190.6" r="1.75"/><circle cx="746.0" cy="190.6" r="1.75"/><circle cx="741.6" cy="190.6" r="1.75"/><circle cx="754.5" cy="190.6" r="1.75"/><circle cx="750.9" cy="190.6" r="1.75"/><circle cx="746.7" cy="190.6" r="1.75"/><circle cx="752.7" cy="190.6" r="1.75"/><circle cx="742.9" cy="190.6" r="1.75"/><circle cx="752.0" cy="190.6" r="1.75"/><circle cx="752.8" cy="190.6" r="1.75"/><circle cx="741.9" cy="190.6" r="1.75"/><circle cx="748.5" cy="190.6" r="1.75"/><circle cx="740.3" cy="190.6" r="1.75"/><circle cx="738.3" cy="190.6" r="1.75"/><circle cx="752.2" cy="190.6" r="1.75"/><circle cx="736.4" cy="190.6" r="1.75"/><circle cx="728.6" cy="190.6" r="1.75"/><circle cx="677.8" cy="197.9" r="1.75"/><circle cx="681.0" cy="197.9" r="1.75"/><circle cx="684.6" cy="197.9" r="1.75"/><circle cx="688.1" cy="197.9" r="1.75"/><circle cx="691.4" cy="197.9" r="1.75"/><circle cx="698.0" cy="197.9" r="1.75"/><circle cx="703.7" cy="197.9" r="1.75"/><circle cx="731.0" cy="197.9" r="1.75"/><circle cx="718.1" cy="197.9" r="1.75"/><circle cx="733.8" cy="197.9" r="1.75"/><circle cx="718.5" cy="197.9" r="1.75"/><circle cx="728.4" cy="197.9" r="1.75"/><circle cx="724.2" cy="197.9" r="1.75"/><circle cx="712.8" cy="197.9" r="1.75"/><circle cx="719.9" cy="197.9" r="1.75"/><circle cx="737.4" cy="197.9" r="1.75"/><circle cx="709.9" cy="197.9" r="1.75"/><circle cx="741.0" cy="197.9" r="1.75"/><circle cx="720.8" cy="197.9" r="1.75"/><circle cx="724.1" cy="197.9" r="1.75"/><circle cx="729.9" cy="197.9" r="1.75"/><circle cx="701.0" cy="197.9" r="1.75"/><circle cx="733.9" cy="197.9" r="1.75"/><circle cx="707.0" cy="197.9" r="1.75"/><circle cx="720.3" cy="197.9" r="1.75"/><circle cx="729.7" cy="197.9" r="1.75"/><circle cx="729.6" cy="197.9" r="1.75"/><circle cx="708.4" cy="197.9" r="1.75"/><circle cx="730.6" cy="197.9" r="1.75"/><circle cx="722.0" cy="197.9" r="1.75"/><circle cx="715.5" cy="197.9" r="1.75"/><circle cx="732.8" cy="197.9" r="1.75"/><circle cx="722.0" cy="197.9" r="1.75"/><circle cx="734.4" cy="197.9" r="1.75"/><circle cx="739.4" cy="197.9" r="1.75"/><circle cx="697.9" cy="197.9" r="1.75"/><circle cx="738.3" cy="197.9" r="1.75"/><circle cx="730.1" cy="197.9" r="1.75"/><circle cx="714.7" cy="197.9" r="1.75"/><circle cx="720.5" cy="197.9" r="1.75"/><circle cx="709.5" cy="197.9" r="1.75"/><circle cx="720.5" cy="197.9" r="1.75"/><circle cx="701.0" cy="197.9" r="1.75"/><circle cx="712.5" cy="197.9" r="1.75"/><circle cx="747.0" cy="197.9" r="1.75"/><circle cx="753.8" cy="197.9" r="1.75"/><circle cx="775.0" cy="197.9" r="1.75"/><circle cx="666.4" cy="205.1" r="1.75"/><circle cx="684.6" cy="205.1" r="1.75"/><circle cx="687.3" cy="205.1" r="1.75"/><circle cx="691.4" cy="205.1" r="1.75"/><circle cx="694.1" cy="205.1" r="1.75"/><circle cx="708.9" cy="205.1" r="1.75"/><circle cx="709.1" cy="205.1" r="1.75"/><circle cx="709.8" cy="205.1" r="1.75"/><circle cx="708.1" cy="205.1" r="1.75"/><circle cx="710.9" cy="205.1" r="1.75"/><circle cx="725.3" cy="205.1" r="1.75"/><circle cx="724.6" cy="205.1" r="1.75"/><circle cx="719.6" cy="205.1" r="1.75"/><circle cx="728.3" cy="205.1" r="1.75"/><circle cx="722.2" cy="205.1" r="1.75"/><circle cx="726.7" cy="205.1" r="1.75"/><circle cx="721.2" cy="205.1" r="1.75"/><circle cx="723.5" cy="205.1" r="1.75"/><circle cx="739.6" cy="205.1" r="1.75"/><circle cx="737.4" cy="205.1" r="1.75"/><circle cx="740.9" cy="205.1" r="1.75"/><circle cx="741.1" cy="205.1" r="1.75"/><circle cx="750.7" cy="205.1" r="1.75"/><circle cx="750.3" cy="205.1" r="1.75"/><circle cx="739.1" cy="205.1" r="1.75"/><circle cx="738.5" cy="205.1" r="1.75"/><circle cx="746.6" cy="205.1" r="1.75"/><circle cx="741.8" cy="205.1" r="1.75"/><circle cx="757.9" cy="205.1" r="1.75"/><circle cx="769.6" cy="205.1" r="1.75"/><circle cx="609.9" cy="212.4" r="1.75"/><circle cx="680.5" cy="212.4" r="1.75"/><circle cx="685.9" cy="212.4" r="1.75"/><circle cx="698.4" cy="212.4" r="1.75"/><circle cx="697.1" cy="212.4" r="1.75"/><circle cx="697.4" cy="212.4" r="1.75"/><circle cx="701.5" cy="212.4" r="1.75"/><circle cx="703.5" cy="212.4" r="1.75"/><circle cx="697.6" cy="212.4" r="1.75"/><circle cx="704.1" cy="212.4" r="1.75"/><circle cx="696.9" cy="212.4" r="1.75"/><circle cx="704.0" cy="212.4" r="1.75"/><circle cx="703.2" cy="212.4" r="1.75"/><circle cx="697.5" cy="212.4" r="1.75"/><circle cx="714.4" cy="212.4" r="1.75"/><circle cx="717.2" cy="212.4" r="1.75"/><circle cx="740.2" cy="212.4" r="1.75"/><circle cx="730.4" cy="212.4" r="1.75"/><circle cx="734.7" cy="212.4" r="1.75"/><circle cx="740.2" cy="212.4" r="1.75"/><circle cx="735.2" cy="212.4" r="1.75"/><circle cx="735.6" cy="212.4" r="1.75"/><circle cx="733.3" cy="212.4" r="1.75"/><circle cx="735.1" cy="212.4" r="1.75"/><circle cx="733.3" cy="212.4" r="1.75"/><circle cx="748.4" cy="212.4" r="1.75"/><circle cx="753.8" cy="212.4" r="1.75"/><circle cx="757.9" cy="212.4" r="1.75"/><circle cx="662.8" cy="219.6" r="1.75"/><circle cx="669.6" cy="219.6" r="1.75"/><circle cx="685.4" cy="219.6" r="1.75"/><circle cx="685.4" cy="219.6" r="1.75"/><circle cx="738.8" cy="219.6" r="1.75"/><circle cx="709.9" cy="219.6" r="1.75"/><circle cx="715.6" cy="219.6" r="1.75"/><circle cx="704.6" cy="219.6" r="1.75"/><circle cx="733.7" cy="219.6" r="1.75"/><circle cx="706.3" cy="219.6" r="1.75"/><circle cx="708.0" cy="219.6" r="1.75"/><circle cx="734.2" cy="219.6" r="1.75"/><circle cx="730.4" cy="219.6" r="1.75"/><circle cx="739.4" cy="219.6" r="1.75"/><circle cx="704.6" cy="219.6" r="1.75"/><circle cx="725.0" cy="219.6" r="1.75"/><circle cx="736.9" cy="219.6" r="1.75"/><circle cx="732.8" cy="219.6" r="1.75"/><circle cx="698.1" cy="219.6" r="1.75"/><circle cx="696.5" cy="219.6" r="1.75"/><circle cx="713.1" cy="219.6" r="1.75"/><circle cx="704.0" cy="219.6" r="1.75"/><circle cx="734.4" cy="219.6" r="1.75"/><circle cx="742.0" cy="219.6" r="1.75"/><circle cx="714.0" cy="219.6" r="1.75"/><circle cx="706.5" cy="219.6" r="1.75"/><circle cx="735.8" cy="219.6" r="1.75"/><circle cx="704.0" cy="219.6" r="1.75"/><circle cx="712.1" cy="219.6" r="1.75"/><circle cx="709.4" cy="219.6" r="1.75"/><circle cx="706.7" cy="219.6" r="1.75"/><circle cx="719.8" cy="219.6" r="1.75"/><circle cx="717.7" cy="219.6" r="1.75"/><circle cx="740.3" cy="219.6" r="1.75"/><circle cx="730.5" cy="219.6" r="1.75"/><circle cx="766.0" cy="219.6" r="1.75"/><circle cx="656.0" cy="226.9" r="1.75"/><circle cx="656.0" cy="226.9" r="1.75"/><circle cx="676.4" cy="226.9" r="1.75"/><circle cx="682.7" cy="226.9" r="1.75"/><circle cx="695.4" cy="226.9" r="1.75"/><circle cx="701.0" cy="226.9" r="1.75"/><circle cx="702.2" cy="226.9" r="1.75"/><circle cx="696.4" cy="226.9" r="1.75"/><circle cx="699.4" cy="226.9" r="1.75"/><circle cx="699.7" cy="226.9" r="1.75"/><circle cx="703.8" cy="226.9" r="1.75"/><circle cx="720.6" cy="226.9" r="1.75"/><circle cx="732.7" cy="226.9" r="1.75"/><circle cx="730.6" cy="226.9" r="1.75"/><circle cx="724.0" cy="226.9" r="1.75"/><circle cx="722.6" cy="226.9" r="1.75"/><circle cx="731.7" cy="226.9" r="1.75"/><circle cx="719.1" cy="226.9" r="1.75"/><circle cx="724.1" cy="226.9" r="1.75"/><circle cx="723.0" cy="226.9" r="1.75"/><circle cx="729.3" cy="226.9" r="1.75"/><circle cx="733.4" cy="226.9" r="1.75"/><circle cx="730.0" cy="226.9" r="1.75"/><circle cx="719.1" cy="226.9" r="1.75"/><circle cx="732.0" cy="226.9" r="1.75"/><circle cx="741.6" cy="226.9" r="1.75"/><circle cx="745.7" cy="226.9" r="1.75"/><circle cx="664.7" cy="234.1" r="1.75"/><circle cx="675.6" cy="234.1" r="1.75"/><circle cx="681.0" cy="234.1" r="1.75"/><circle cx="684.6" cy="234.1" r="1.75"/><circle cx="694.8" cy="234.1" r="1.75"/><circle cx="694.8" cy="234.1" r="1.75"/><circle cx="689.5" cy="234.1" r="1.75"/><circle cx="691.2" cy="234.1" r="1.75"/><circle cx="690.4" cy="234.1" r="1.75"/><circle cx="697.8" cy="234.1" r="1.75"/><circle cx="692.9" cy="234.1" r="1.75"/><circle cx="693.3" cy="234.1" r="1.75"/><circle cx="717.8" cy="234.1" r="1.75"/><circle cx="707.2" cy="234.1" r="1.75"/><circle cx="712.8" cy="234.1" r="1.75"/><circle cx="723.7" cy="234.1" r="1.75"/><circle cx="713.2" cy="234.1" r="1.75"/><circle cx="710.9" cy="234.1" r="1.75"/><circle cx="709.8" cy="234.1" r="1.75"/><circle cx="721.1" cy="234.1" r="1.75"/><circle cx="709.7" cy="234.1" r="1.75"/><circle cx="718.6" cy="234.1" r="1.75"/><circle cx="717.1" cy="234.1" r="1.75"/><circle cx="707.5" cy="234.1" r="1.75"/><circle cx="728.3" cy="234.1" r="1.75"/><circle cx="729.4" cy="234.1" r="1.75"/><circle cx="733.5" cy="234.1" r="1.75"/><circle cx="736.6" cy="234.1" r="1.75"/><circle cx="736.5" cy="234.1" r="1.75"/><circle cx="736.1" cy="234.1" r="1.75"/><circle cx="734.2" cy="234.1" r="1.75"/><circle cx="744.3" cy="234.1" r="1.75"/><circle cx="747.8" cy="234.1" r="1.75"/><circle cx="751.1" cy="234.1" r="1.75"/><circle cx="674.5" cy="241.4" r="1.75"/><circle cx="681.8" cy="241.4" r="1.75"/><circle cx="684.6" cy="241.4" r="1.75"/><circle cx="688.6" cy="241.4" r="1.75"/><circle cx="693.5" cy="241.4" r="1.75"/><circle cx="695.4" cy="241.4" r="1.75"/><circle cx="702.9" cy="241.4" r="1.75"/><circle cx="707.3" cy="241.4" r="1.75"/><circle cx="704.6" cy="241.4" r="1.75"/><circle cx="708.6" cy="241.4" r="1.75"/><circle cx="714.4" cy="241.4" r="1.75"/><circle cx="725.9" cy="241.4" r="1.75"/><circle cx="721.6" cy="241.4" r="1.75"/><circle cx="723.6" cy="241.4" r="1.75"/><circle cx="721.4" cy="241.4" r="1.75"/><circle cx="724.5" cy="241.4" r="1.75"/><circle cx="722.6" cy="241.4" r="1.75"/><circle cx="725.7" cy="241.4" r="1.75"/><circle cx="737.5" cy="241.4" r="1.75"/><circle cx="742.4" cy="241.4" r="1.75"/><circle cx="746.2" cy="241.4" r="1.75"/><circle cx="751.1" cy="241.4" r="1.75"/><circle cx="756.0" cy="241.4" r="1.75"/><circle cx="667.5" cy="248.6" r="1.75"/><circle cx="675.1" cy="248.6" r="1.75"/><circle cx="683.2" cy="248.6" r="1.75"/><circle cx="683.2" cy="248.6" r="1.75"/><circle cx="692.7" cy="248.6" r="1.75"/><circle cx="703.3" cy="248.6" r="1.75"/><circle cx="705.4" cy="248.6" r="1.75"/><circle cx="696.8" cy="248.6" r="1.75"/><circle cx="698.7" cy="248.6" r="1.75"/><circle cx="708.6" cy="248.6" r="1.75"/><circle cx="712.2" cy="248.6" r="1.75"/><circle cx="714.8" cy="248.6" r="1.75"/><circle cx="710.0" cy="248.6" r="1.75"/><circle cx="705.7" cy="248.6" r="1.75"/><circle cx="715.2" cy="248.6" r="1.75"/><circle cx="715.3" cy="248.6" r="1.75"/><circle cx="696.4" cy="248.6" r="1.75"/><circle cx="703.2" cy="248.6" r="1.75"/><circle cx="726.7" cy="248.6" r="1.75"/><circle cx="726.4" cy="248.6" r="1.75"/><circle cx="725.5" cy="248.6" r="1.75"/><circle cx="720.3" cy="248.6" r="1.75"/><circle cx="727.8" cy="248.6" r="1.75"/><circle cx="730.7" cy="248.6" r="1.75"/><circle cx="734.8" cy="248.6" r="1.75"/><circle cx="748.9" cy="248.6" r="1.75"/><circle cx="653.9" cy="255.9" r="1.75"/><circle cx="679.1" cy="255.9" r="1.75"/><circle cx="684.6" cy="255.9" r="1.75"/><circle cx="684.6" cy="255.9" r="1.75"/><circle cx="686.5" cy="255.9" r="1.75"/><circle cx="691.9" cy="255.9" r="1.75"/><circle cx="696.8" cy="255.9" r="1.75"/><circle cx="704.9" cy="255.9" r="1.75"/><circle cx="716.9" cy="255.9" r="1.75"/><circle cx="714.4" cy="255.9" r="1.75"/><circle cx="719.2" cy="255.9" r="1.75"/><circle cx="711.0" cy="255.9" r="1.75"/><circle cx="721.2" cy="255.9" r="1.75"/><circle cx="722.8" cy="255.9" r="1.75"/><circle cx="722.0" cy="255.9" r="1.75"/><circle cx="718.2" cy="255.9" r="1.75"/><circle cx="719.0" cy="255.9" r="1.75"/><circle cx="721.2" cy="255.9" r="1.75"/><circle cx="714.6" cy="255.9" r="1.75"/><circle cx="732.1" cy="255.9" r="1.75"/><circle cx="734.8" cy="255.9" r="1.75"/><circle cx="737.5" cy="255.9" r="1.75"/><circle cx="740.2" cy="255.9" r="1.75"/><circle cx="676.4" cy="263.1" r="1.75"/><circle cx="679.1" cy="263.1" r="1.75"/><circle cx="681.8" cy="263.1" r="1.75"/><circle cx="700.9" cy="263.1" r="1.75"/><circle cx="703.6" cy="263.1" r="1.75"/><circle cx="706.3" cy="263.1" r="1.75"/><circle cx="709.0" cy="263.1" r="1.75"/><circle cx="712.5" cy="263.1" r="1.75"/><circle cx="717.2" cy="263.1" r="1.75"/><circle cx="714.4" cy="270.4" r="1.75"/><circle cx="687.8" cy="277.6" r="1.75"/><circle cx="700.9" cy="306.6" r="1.75"/><circle cx="710.4" cy="306.6" r="1.75"/><circle cx="726.7" cy="306.6" r="1.75"/><circle cx="731.5" cy="306.6" r="1.75"/><circle cx="736.2" cy="306.6" r="1.75"/></g>
<line x1="579.5" y1="234.6" x2="796.7" y2="156.3" stroke="#444" stroke-width="1"/>
<text transform="translate(89.70,15.70) scale(1.0609,1)" font-size="14" font-weight="normal" fill="#444444">2</text>
<text transform="translate(98.80,15.70) scale(1.0908,1)" font-size="14" font-weight="normal" fill="#444444">-</text>
<text transform="translate(104.81,15.70) scale(0.9320,1)" font-size="14" font-weight="normal" fill="#444444">Back</text>
<text transform="translate(156.01,15.70) scale(0.9801,1)" font-size="14" font-weight="normal" fill="#444444">0</text>
<text transform="translate(164.78,15.70) scale(1.0882,1)" font-size="14" font-weight="normal" fill="#444444">-</text>
<text transform="translate(170.77,15.70) scale(0.9299,1)" font-size="14" font-weight="normal" fill="#444444">Back</text>
<text transform="translate(264.81,15.60) scale(1.0511,1)" font-size="14" font-weight="normal" fill="#444444">2</text>
<text transform="translate(273.82,15.60) scale(1.0807,1)" font-size="14" font-weight="normal" fill="#444444">-</text>
<text transform="translate(279.77,15.60) scale(0.9234,1)" font-size="14" font-weight="normal" fill="#444444">Back</text>
<text transform="translate(332.61,15.90) scale(0.9755,1)" font-size="14" font-weight="normal" fill="#444444">0</text>
<text transform="translate(341.34,15.90) scale(1.0832,1)" font-size="14" font-weight="normal" fill="#444444">-</text>
<text transform="translate(347.31,15.90) scale(0.9256,1)" font-size="14" font-weight="normal" fill="#444444">Back</text>
<text transform="translate(443.72,16.50) scale(1.0413,1)" font-size="14" font-weight="normal" fill="#444444">2</text>
<text transform="translate(452.64,16.50) scale(1.0706,1)" font-size="14" font-weight="normal" fill="#444444">-</text>
<text transform="translate(458.54,16.50) scale(0.9148,1)" font-size="14" font-weight="normal" fill="#444444">Back</text>
<text transform="translate(510.12,16.50) scale(1.0339,1)" font-size="14" font-weight="normal" fill="#444444">2</text>
<text transform="translate(518.98,16.50) scale(1.0630,1)" font-size="14" font-weight="normal" fill="#444444">-</text>
<text transform="translate(524.84,16.50) scale(0.9083,1)" font-size="14" font-weight="normal" fill="#444444">Back</text>
<text transform="translate(617.51,18.30) scale(0.9755,1)" font-size="14" font-weight="normal" fill="#444444">0</text>
<text transform="translate(626.24,18.30) scale(1.0832,1)" font-size="14" font-weight="normal" fill="#444444">-</text>
<text transform="translate(632.21,18.30) scale(0.9256,1)" font-size="14" font-weight="normal" fill="#444444">Back</text>
<text transform="translate(686.21,18.30) scale(0.9732,1)" font-size="14" font-weight="normal" fill="#444444">0</text>
<text transform="translate(694.92,18.30) scale(1.0807,1)" font-size="14" font-weight="normal" fill="#444444">-</text>
<text transform="translate(700.87,18.30) scale(0.9234,1)" font-size="14" font-weight="normal" fill="#444444">Back</text>
<text transform="translate(97.52,77.80) scale(1.1381,1)" font-size="13.8" font-weight="normal" fill="#444444">tool</text>
<text transform="translate(160.51,77.80) scale(1.0922,1)" font-size="13.8" font-weight="normal" fill="#444444">body</text>
<text transform="translate(274.16,77.80) scale(0.9624,1)" font-size="13.8" font-weight="normal" fill="#444444">face</text>
<text transform="translate(345.22,77.80) scale(1.1286,1)" font-size="13.8" font-weight="normal" fill="#444444">tool</text>
<text transform="translate(450.51,78.90) scale(1.0887,1)" font-size="13.8" font-weight="normal" fill="#444444">body</text>
<text transform="translate(520.39,78.60) scale(1.0063,1)" font-size="13.8" font-weight="normal" fill="#444444">place</text>
<text transform="translate(623.66,78.30) scale(0.9624,1)" font-size="13.8" font-weight="normal" fill="#444444">face</text>
<text transform="translate(694.39,76.30) scale(1.0063,1)" font-size="13.8" font-weight="normal" fill="#444444">place</text>
<text transform="translate(4.66,14.70) scale(0.8533,1)" font-size="14" font-weight="bold" fill="#111">(</text>
<text transform="translate(9.83,15.80) scale(1.0947,1)" font-size="14" font-weight="bold" fill="#111">A</text>
<text transform="translate(21.80,14.70) scale(0.8500,1)" font-size="14" font-weight="bold" fill="#111">)</text>
<text transform="translate(3.96,108.50) scale(0.8533,1)" font-size="14" font-weight="bold" fill="#111">(</text>
<text transform="translate(9.70,109.60) scale(1.0000,1)" font-size="14" font-weight="bold" fill="#111">B</text>
<text transform="translate(21.40,108.50) scale(0.8750,1)" font-size="14" font-weight="bold" fill="#111">)</text>
<text transform="translate(270.98,108.60) scale(0.8267,1)" font-size="14" font-weight="bold" fill="#111">(</text>
<text transform="translate(276.51,109.70) scale(0.9838,1)" font-size="14" font-weight="bold" fill="#111">C</text>
<text transform="translate(288.50,108.60) scale(0.8000,1)" font-size="14" font-weight="bold" fill="#111">)</text>
<text transform="translate(534.36,108.60) scale(0.8533,1)" font-size="14" font-weight="bold" fill="#111">(</text>
<text transform="translate(539.94,109.70) scale(1.0588,1)" font-size="14" font-weight="bold" fill="#111">D</text>
<text transform="translate(551.70,108.60) scale(0.8500,1)" font-size="14" font-weight="bold" fill="#111">)</text>
<text transform="translate(74.80,113.80) scale(0.9974,1)" font-size="12.2" font-weight="normal" fill="#1a1a1a" stroke="#1a1a1a" stroke-width="0.12">Scatterplot of CSI<tspan font-size="8.75">2-0</tspan> vs RT<tspan font-size="8.75">2-0</tspan></text>
<text transform="translate(346.10,113.80) scale(0.9996,1)" font-size="12.2" font-weight="normal" fill="#1a1a1a" stroke="#1a1a1a" stroke-width="0.12">Scatterplot of Gf vs CSI<tspan font-size="8.75">2-0</tspan></text>
<text transform="translate(621.90,113.80) scale(1.0004,1)" font-size="12.2" font-weight="normal" fill="#1a1a1a" stroke="#1a1a1a" stroke-width="0.12">Scatterplot of Gf vs RT<tspan font-size="8.75">2-0</tspan></text>
<text transform="translate(139.31,346.80) scale(0.9892,1)" font-size="12.3" font-weight="normal" fill="#1a1a1a" stroke="#1a1a1a" stroke-width="0.12">RT<tspan font-size="8.8">2-0</tspan>, ms</text>
<text transform="translate(402.61,346.80) scale(0.9900,1)" font-size="12.3" font-weight="normal" fill="#1a1a1a" stroke="#1a1a1a" stroke-width="0.12">CSI<tspan font-size="8.8">2-0</tspan>, %</text>
<text transform="translate(669.50,346.80) scale(1.0010,1)" font-size="12.3" font-weight="normal" fill="#1a1a1a" stroke="#1a1a1a" stroke-width="0.12">RT<tspan font-size="8.8">2-0</tspan>, ms</text>
<text transform="translate(21.70,235.99) rotate(-90) scale(0.9760,1)" font-size="12.3" font-weight="normal" fill="#1a1a1a" stroke="#1a1a1a" stroke-width="0.12">CSI<tspan font-size="8.8">2-0</tspan>, %</text>
<text transform="translate(286.20,261.50) rotate(-90) scale(1.0024,1)" font-size="12.3" font-weight="normal" fill="#1a1a1a" stroke="#1a1a1a" stroke-width="0.12">PMAT24_A_CR</text>
<text transform="translate(551.20,261.50) rotate(-90) scale(1.0024,1)" font-size="12.3" font-weight="normal" fill="#1a1a1a" stroke="#1a1a1a" stroke-width="0.12">PMAT24_A_CR</text>
</svg>
</body></html>
